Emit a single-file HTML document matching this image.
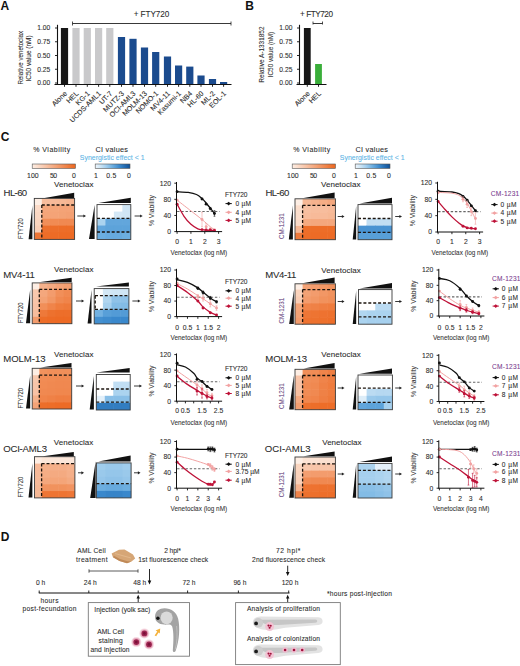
<!DOCTYPE html>
<html><head><meta charset="utf-8"><title>Figure</title>
<style>html,body{margin:0;padding:0;background:#fff;width:520px;height:666px;overflow:hidden}svg{display:block}text{font-family:"Liberation Sans", sans-serif}</style>
</head><body>
<svg width="520" height="666" viewBox="0 0 520 666" font-family='"Liberation Sans", sans-serif'><defs><linearGradient id="gO" x1="0" x2="1" y1="0" y2="0"><stop offset="0" stop-color="#fdeee4"/><stop offset="1" stop-color="#ec661e"/></linearGradient><linearGradient id="gB" x1="0" x2="1" y1="0" y2="0"><stop offset="0.00" stop-color="#eef6fc"/><stop offset="0.15" stop-color="#cee5f5"/><stop offset="0.30" stop-color="#a6d0ee"/><stop offset="0.50" stop-color="#6caee0"/><stop offset="0.70" stop-color="#3a88cc"/><stop offset="1.00" stop-color="#105096"/></linearGradient></defs><rect width="520" height="666" fill="#fff"/><text x="0.50" y="10.40" font-size="12" font-weight="bold" fill="#111">A</text>
<text x="151.50" y="17.30" font-size="8.2" text-anchor="middle" fill="#2b2b2b" stroke="#2b2b2b" stroke-width="0.08" textLength="35.50" lengthAdjust="spacing">+ FTY720</text>
<line x1="72.50" y1="23.50" x2="231.00" y2="23.50" stroke="#222" stroke-width="0.9"/>
<line x1="72.50" y1="21.50" x2="72.50" y2="25.50" stroke="#222" stroke-width="0.8"/>
<line x1="231.00" y1="21.50" x2="231.00" y2="25.50" stroke="#222" stroke-width="0.8"/>
<line x1="57.50" y1="24.80" x2="57.50" y2="84.50" stroke="#111" stroke-width="1.1"/>
<line x1="55.00" y1="28.00" x2="57.50" y2="28.00" stroke="#111" stroke-width="0.9"/>
<text x="50.20" y="30.30" font-size="6.7" text-anchor="end" fill="#2b2b2b" stroke="#2b2b2b" stroke-width="0.08">1.00</text>
<line x1="55.00" y1="41.75" x2="57.50" y2="41.75" stroke="#111" stroke-width="0.9"/>
<text x="50.20" y="44.05" font-size="6.7" text-anchor="end" fill="#2b2b2b" stroke="#2b2b2b" stroke-width="0.08">0.75</text>
<line x1="55.00" y1="55.50" x2="57.50" y2="55.50" stroke="#111" stroke-width="0.9"/>
<text x="50.20" y="57.80" font-size="6.7" text-anchor="end" fill="#2b2b2b" stroke="#2b2b2b" stroke-width="0.08">0.50</text>
<line x1="55.00" y1="69.25" x2="57.50" y2="69.25" stroke="#111" stroke-width="0.9"/>
<text x="50.20" y="71.55" font-size="6.7" text-anchor="end" fill="#2b2b2b" stroke="#2b2b2b" stroke-width="0.08">0.25</text>
<line x1="55.00" y1="83.00" x2="57.50" y2="83.00" stroke="#111" stroke-width="0.9"/>
<text x="50.20" y="85.30" font-size="6.7" text-anchor="end" fill="#2b2b2b" stroke="#2b2b2b" stroke-width="0.08">0.00</text>
<line x1="54.50" y1="84.50" x2="231.50" y2="84.50" stroke="#111" stroke-width="1.0"/>
<text x="0" y="0" transform="translate(22.50,57.75) rotate(-90)" font-size="7.9" text-anchor="middle" fill="#2b2b2b" stroke="#2b2b2b" stroke-width="0.08" textLength="53.70" lengthAdjust="spacingAndGlyphs">Relative venetoclax</text>
<text x="0" y="0" transform="translate(31.20,58.45) rotate(-90)" font-size="7.9" text-anchor="middle" fill="#2b2b2b" stroke="#2b2b2b" stroke-width="0.08" textLength="46.30" lengthAdjust="spacingAndGlyphs">IC50 value (nM)</text>
<rect x="60.90" y="28.00" width="7.20" height="56.00" fill="#161616"/>
<line x1="64.50" y1="84.00" x2="64.50" y2="86.80" stroke="#111" stroke-width="0.9"/>
<text x="0" y="0" transform="translate(67.50,94.00) rotate(-45)" font-size="7.1" text-anchor="end" fill="#2b2b2b" stroke="#2b2b2b" stroke-width="0.08">Alone</text>
<rect x="72.40" y="28.00" width="7.20" height="56.00" fill="#c9c9cb"/>
<line x1="76.00" y1="84.00" x2="76.00" y2="86.80" stroke="#111" stroke-width="0.9"/>
<text x="0" y="0" transform="translate(79.00,94.00) rotate(-45)" font-size="7.1" text-anchor="end" fill="#2b2b2b" stroke="#2b2b2b" stroke-width="0.08">HEL</text>
<rect x="83.70" y="28.00" width="7.20" height="56.00" fill="#c9c9cb"/>
<line x1="87.30" y1="84.00" x2="87.30" y2="86.80" stroke="#111" stroke-width="0.9"/>
<text x="0" y="0" transform="translate(90.30,94.00) rotate(-45)" font-size="7.1" text-anchor="end" fill="#2b2b2b" stroke="#2b2b2b" stroke-width="0.08">KG-1</text>
<rect x="95.00" y="28.00" width="7.20" height="56.00" fill="#c9c9cb"/>
<line x1="98.60" y1="84.00" x2="98.60" y2="86.80" stroke="#111" stroke-width="0.9"/>
<text x="0" y="0" transform="translate(101.60,94.00) rotate(-45)" font-size="7.1" text-anchor="end" fill="#2b2b2b" stroke="#2b2b2b" stroke-width="0.08">UCDS-AML1</text>
<rect x="106.20" y="28.00" width="7.20" height="56.00" fill="#c9c9cb"/>
<line x1="109.80" y1="84.00" x2="109.80" y2="86.80" stroke="#111" stroke-width="0.9"/>
<text x="0" y="0" transform="translate(112.80,94.00) rotate(-45)" font-size="7.1" text-anchor="end" fill="#2b2b2b" stroke="#2b2b2b" stroke-width="0.08">UT-7</text>
<rect x="117.90" y="37.00" width="7.20" height="47.00" fill="#1b4b8e"/>
<line x1="121.50" y1="84.00" x2="121.50" y2="86.80" stroke="#111" stroke-width="0.9"/>
<text x="0" y="0" transform="translate(124.50,94.00) rotate(-45)" font-size="7.1" text-anchor="end" fill="#2b2b2b" stroke="#2b2b2b" stroke-width="0.08">MUTZ-3</text>
<rect x="129.40" y="38.80" width="7.20" height="45.20" fill="#1b4b8e"/>
<line x1="133.00" y1="84.00" x2="133.00" y2="86.80" stroke="#111" stroke-width="0.9"/>
<text x="0" y="0" transform="translate(136.00,94.00) rotate(-45)" font-size="7.1" text-anchor="end" fill="#2b2b2b" stroke="#2b2b2b" stroke-width="0.08">OCI-AML3</text>
<rect x="140.90" y="47.50" width="7.20" height="36.50" fill="#1b4b8e"/>
<line x1="144.50" y1="84.00" x2="144.50" y2="86.80" stroke="#111" stroke-width="0.9"/>
<text x="0" y="0" transform="translate(147.50,94.00) rotate(-45)" font-size="7.1" text-anchor="end" fill="#2b2b2b" stroke="#2b2b2b" stroke-width="0.08">MOLM-13</text>
<rect x="152.10" y="52.00" width="7.20" height="32.00" fill="#1b4b8e"/>
<line x1="155.70" y1="84.00" x2="155.70" y2="86.80" stroke="#111" stroke-width="0.9"/>
<text x="0" y="0" transform="translate(158.70,94.00) rotate(-45)" font-size="7.1" text-anchor="end" fill="#2b2b2b" stroke="#2b2b2b" stroke-width="0.08">NOMO-1</text>
<rect x="163.90" y="56.50" width="7.20" height="27.50" fill="#1b4b8e"/>
<line x1="167.50" y1="84.00" x2="167.50" y2="86.80" stroke="#111" stroke-width="0.9"/>
<text x="0" y="0" transform="translate(170.50,94.00) rotate(-45)" font-size="7.1" text-anchor="end" fill="#2b2b2b" stroke="#2b2b2b" stroke-width="0.08">MV4-11</text>
<rect x="175.00" y="65.50" width="7.20" height="18.50" fill="#1b4b8e"/>
<line x1="178.60" y1="84.00" x2="178.60" y2="86.80" stroke="#111" stroke-width="0.9"/>
<text x="0" y="0" transform="translate(181.60,94.00) rotate(-45)" font-size="7.1" text-anchor="end" fill="#2b2b2b" stroke="#2b2b2b" stroke-width="0.08">Kasumi-1</text>
<rect x="186.20" y="66.60" width="7.20" height="17.40" fill="#1b4b8e"/>
<line x1="189.80" y1="84.00" x2="189.80" y2="86.80" stroke="#111" stroke-width="0.9"/>
<text x="0" y="0" transform="translate(192.80,94.00) rotate(-45)" font-size="7.1" text-anchor="end" fill="#2b2b2b" stroke="#2b2b2b" stroke-width="0.08">NB4</text>
<rect x="197.40" y="75.50" width="7.20" height="8.50" fill="#1b4b8e"/>
<line x1="201.00" y1="84.00" x2="201.00" y2="86.80" stroke="#111" stroke-width="0.9"/>
<text x="0" y="0" transform="translate(204.00,94.00) rotate(-45)" font-size="7.1" text-anchor="end" fill="#2b2b2b" stroke="#2b2b2b" stroke-width="0.08">HL-60</text>
<rect x="208.90" y="79.00" width="7.20" height="5.00" fill="#1b4b8e"/>
<line x1="212.50" y1="84.00" x2="212.50" y2="86.80" stroke="#111" stroke-width="0.9"/>
<text x="0" y="0" transform="translate(215.50,94.00) rotate(-45)" font-size="7.1" text-anchor="end" fill="#2b2b2b" stroke="#2b2b2b" stroke-width="0.08">ML-2</text>
<rect x="220.00" y="82.00" width="7.20" height="2.00" fill="#1b4b8e"/>
<line x1="223.60" y1="84.00" x2="223.60" y2="86.80" stroke="#111" stroke-width="0.9"/>
<text x="0" y="0" transform="translate(226.60,94.00) rotate(-45)" font-size="7.1" text-anchor="end" fill="#2b2b2b" stroke="#2b2b2b" stroke-width="0.08">EOL-1</text>
<text x="245.30" y="10.20" font-size="12" font-weight="bold" fill="#111">B</text>
<text x="316.50" y="17.20" font-size="8.2" text-anchor="middle" fill="#2b2b2b" stroke="#2b2b2b" stroke-width="0.08" textLength="33.00" lengthAdjust="spacing">+ FTY720</text>
<line x1="313.00" y1="23.50" x2="322.50" y2="23.50" stroke="#222" stroke-width="0.9"/>
<line x1="313.00" y1="21.50" x2="313.00" y2="24.50" stroke="#222" stroke-width="0.8"/>
<line x1="322.50" y1="21.50" x2="322.50" y2="24.50" stroke="#222" stroke-width="0.8"/>
<line x1="299.50" y1="24.80" x2="299.50" y2="84.50" stroke="#111" stroke-width="1.1"/>
<line x1="297.00" y1="28.00" x2="299.50" y2="28.00" stroke="#111" stroke-width="0.9"/>
<text x="292.40" y="30.30" font-size="6.7" text-anchor="end" fill="#2b2b2b" stroke="#2b2b2b" stroke-width="0.08">1.00</text>
<line x1="297.00" y1="41.75" x2="299.50" y2="41.75" stroke="#111" stroke-width="0.9"/>
<text x="292.40" y="44.05" font-size="6.7" text-anchor="end" fill="#2b2b2b" stroke="#2b2b2b" stroke-width="0.08">0.75</text>
<line x1="297.00" y1="55.50" x2="299.50" y2="55.50" stroke="#111" stroke-width="0.9"/>
<text x="292.40" y="57.80" font-size="6.7" text-anchor="end" fill="#2b2b2b" stroke="#2b2b2b" stroke-width="0.08">0.50</text>
<line x1="297.00" y1="69.25" x2="299.50" y2="69.25" stroke="#111" stroke-width="0.9"/>
<text x="292.40" y="71.55" font-size="6.7" text-anchor="end" fill="#2b2b2b" stroke="#2b2b2b" stroke-width="0.08">0.25</text>
<line x1="297.00" y1="83.00" x2="299.50" y2="83.00" stroke="#111" stroke-width="0.9"/>
<text x="292.40" y="85.30" font-size="6.7" text-anchor="end" fill="#2b2b2b" stroke="#2b2b2b" stroke-width="0.08">0.00</text>
<line x1="296.50" y1="84.50" x2="326.50" y2="84.50" stroke="#111" stroke-width="1.0"/>
<text x="0" y="0" transform="translate(263.60,54.60) rotate(-90)" font-size="7.9" text-anchor="middle" fill="#2b2b2b" stroke="#2b2b2b" stroke-width="0.08" textLength="56.20" lengthAdjust="spacingAndGlyphs">Relative A-1331852</text>
<text x="0" y="0" transform="translate(273.20,54.60) rotate(-90)" font-size="7.9" text-anchor="middle" fill="#2b2b2b" stroke="#2b2b2b" stroke-width="0.08" textLength="45.40" lengthAdjust="spacingAndGlyphs">IC50 value (nM)</text>
<rect x="303.90" y="28.00" width="6.80" height="56.00" fill="#161616"/>
<line x1="307.30" y1="84.00" x2="307.30" y2="86.80" stroke="#111" stroke-width="0.9"/>
<text x="0" y="0" transform="translate(310.30,94.00) rotate(-45)" font-size="7.1" text-anchor="end" fill="#2b2b2b" stroke="#2b2b2b" stroke-width="0.08">Alone</text>
<rect x="315.10" y="64.00" width="6.80" height="20.00" fill="#3aae3a"/>
<line x1="318.50" y1="84.00" x2="318.50" y2="86.80" stroke="#111" stroke-width="0.9"/>
<text x="0" y="0" transform="translate(321.50,94.00) rotate(-45)" font-size="7.1" text-anchor="end" fill="#2b2b2b" stroke="#2b2b2b" stroke-width="0.08">HEL</text>
<text x="0.80" y="141.20" font-size="12" font-weight="bold" fill="#111">C</text>
<text x="33.20" y="151.70" font-size="7.0" fill="#2b2b2b" stroke="#2b2b2b" stroke-width="0.08" textLength="37.00" lengthAdjust="spacing">% Viability</text>
<text x="95.50" y="152.30" font-size="7.3" fill="#2b2b2b" stroke="#2b2b2b" stroke-width="0.08" textLength="32.50" lengthAdjust="spacing">CI values</text>
<text x="79.80" y="160.40" font-size="6.9" fill="#5cb4e6" stroke="#5cb4e6" stroke-width="0.08" textLength="64.80" lengthAdjust="spacing">Synergistic effect &lt; 1</text>
<rect x="32.20" y="164.00" width="43.20" height="4.40" fill="url(#gO)" stroke="#555" stroke-width="0.6"/>
<rect x="95.20" y="164.00" width="34.80" height="4.40" fill="url(#gB)" stroke="#555" stroke-width="0.6"/>
<text x="32.80" y="177.60" font-size="6.9" text-anchor="middle" fill="#2b2b2b" stroke="#2b2b2b" stroke-width="0.08" textLength="11.50" lengthAdjust="spacing">100</text>
<text x="53.60" y="177.60" font-size="6.9" text-anchor="middle" fill="#2b2b2b" stroke="#2b2b2b" stroke-width="0.08" textLength="7.20" lengthAdjust="spacing">50</text>
<text x="74.00" y="177.60" font-size="6.9" text-anchor="middle" fill="#2b2b2b" stroke="#2b2b2b" stroke-width="0.08">0</text>
<text x="96.00" y="177.60" font-size="6.9" text-anchor="middle" fill="#2b2b2b" stroke="#2b2b2b" stroke-width="0.08">1</text>
<text x="111.30" y="177.60" font-size="6.9" text-anchor="middle" fill="#2b2b2b" stroke="#2b2b2b" stroke-width="0.08" textLength="10.20" lengthAdjust="spacing">0.5</text>
<text x="129.00" y="177.60" font-size="6.9" text-anchor="middle" fill="#2b2b2b" stroke="#2b2b2b" stroke-width="0.08">0</text>
<text x="293.20" y="151.70" font-size="7.0" fill="#2b2b2b" stroke="#2b2b2b" stroke-width="0.08" textLength="37.00" lengthAdjust="spacing">% Viability</text>
<text x="355.50" y="152.30" font-size="7.3" fill="#2b2b2b" stroke="#2b2b2b" stroke-width="0.08" textLength="32.50" lengthAdjust="spacing">CI values</text>
<text x="339.80" y="160.40" font-size="6.9" fill="#5cb4e6" stroke="#5cb4e6" stroke-width="0.08" textLength="64.80" lengthAdjust="spacing">Synergistic effect &lt; 1</text>
<rect x="292.20" y="164.00" width="43.20" height="4.40" fill="url(#gO)" stroke="#555" stroke-width="0.6"/>
<rect x="355.20" y="164.00" width="34.80" height="4.40" fill="url(#gB)" stroke="#555" stroke-width="0.6"/>
<text x="292.80" y="177.60" font-size="6.9" text-anchor="middle" fill="#2b2b2b" stroke="#2b2b2b" stroke-width="0.08" textLength="11.50" lengthAdjust="spacing">100</text>
<text x="313.60" y="177.60" font-size="6.9" text-anchor="middle" fill="#2b2b2b" stroke="#2b2b2b" stroke-width="0.08" textLength="7.20" lengthAdjust="spacing">50</text>
<text x="334.00" y="177.60" font-size="6.9" text-anchor="middle" fill="#2b2b2b" stroke="#2b2b2b" stroke-width="0.08">0</text>
<text x="356.00" y="177.60" font-size="6.9" text-anchor="middle" fill="#2b2b2b" stroke="#2b2b2b" stroke-width="0.08">1</text>
<text x="371.30" y="177.60" font-size="6.9" text-anchor="middle" fill="#2b2b2b" stroke="#2b2b2b" stroke-width="0.08" textLength="10.20" lengthAdjust="spacing">0.5</text>
<text x="389.00" y="177.60" font-size="6.9" text-anchor="middle" fill="#2b2b2b" stroke="#2b2b2b" stroke-width="0.08">0</text>
<text x="3.60" y="195.70" font-size="9.6" fill="#2b2b2b" stroke="#2b2b2b" stroke-width="0.08" textLength="23.60" lengthAdjust="spacing">HL-60</text>
<text x="54.00" y="186.80" font-size="8.0" fill="#2b2b2b" stroke="#2b2b2b" stroke-width="0.08" textLength="39.40" lengthAdjust="spacing">Venetoclax</text>
<rect x="34.30" y="198.40" width="8.10" height="7.20" fill="#fdeee4"/>
<rect x="41.80" y="198.40" width="8.80" height="7.20" fill="#f7bd9d"/>
<rect x="50.00" y="198.40" width="8.80" height="7.20" fill="#f7ba99"/>
<rect x="58.20" y="198.40" width="8.80" height="7.20" fill="#f6b895"/>
<rect x="66.40" y="198.40" width="8.20" height="7.20" fill="#f6b591"/>
<rect x="34.30" y="205.00" width="8.10" height="7.48" fill="#fbdbc8"/>
<rect x="41.80" y="205.00" width="8.80" height="7.48" fill="#f4a77d"/>
<rect x="50.00" y="205.00" width="8.80" height="7.48" fill="#f4a579"/>
<rect x="58.20" y="205.00" width="8.80" height="7.48" fill="#f4a377"/>
<rect x="66.40" y="205.00" width="8.20" height="7.48" fill="#f4a377"/>
<rect x="34.30" y="211.88" width="8.10" height="7.48" fill="#fad8c4"/>
<rect x="41.80" y="211.88" width="8.80" height="7.48" fill="#f4a579"/>
<rect x="50.00" y="211.88" width="8.80" height="7.48" fill="#f4a377"/>
<rect x="58.20" y="211.88" width="8.80" height="7.48" fill="#f3a275"/>
<rect x="66.40" y="211.88" width="8.20" height="7.48" fill="#f3a073"/>
<rect x="34.30" y="218.76" width="8.10" height="7.48" fill="#fad6c0"/>
<rect x="41.80" y="218.76" width="8.80" height="7.48" fill="#f18f59"/>
<rect x="50.00" y="218.76" width="8.80" height="7.48" fill="#f18b53"/>
<rect x="58.20" y="218.76" width="8.80" height="7.48" fill="#f08951"/>
<rect x="66.40" y="218.76" width="8.20" height="7.48" fill="#f08951"/>
<rect x="34.30" y="225.64" width="8.10" height="7.48" fill="#f9d0b8"/>
<rect x="41.80" y="225.64" width="8.80" height="7.48" fill="#ed712e"/>
<rect x="50.00" y="225.64" width="8.80" height="7.48" fill="#ed6e2a"/>
<rect x="58.20" y="225.64" width="8.80" height="7.48" fill="#ed6d28"/>
<rect x="66.40" y="225.64" width="8.20" height="7.48" fill="#ed6d28"/>
<rect x="34.30" y="232.52" width="8.10" height="6.88" fill="#ee7636"/>
<rect x="41.80" y="232.52" width="8.80" height="6.88" fill="#ed6d28"/>
<rect x="50.00" y="232.52" width="8.80" height="6.88" fill="#ed6b26"/>
<rect x="58.20" y="232.52" width="8.80" height="6.88" fill="#ed6a24"/>
<rect x="66.40" y="232.52" width="8.20" height="6.88" fill="#ed6a24"/>
<rect x="34.30" y="198.40" width="40.30" height="41.00" fill="none" stroke="#3a3a3a" stroke-width="0.9"/>
<line x1="41.80" y1="205.00" x2="74.60" y2="205.00" stroke="#1c140e" stroke-width="1.3" stroke-dasharray="3.0,1.9"/>
<line x1="41.80" y1="205.00" x2="41.80" y2="239.40" stroke="#1c140e" stroke-width="1.3" stroke-dasharray="3.0,1.9"/>
<polygon points="44.70,198.00 74.20,198.00 74.20,192.70" fill="#111"/>
<polygon points="32.40,205.60 32.40,239.20 28.60,239.20" fill="#111"/>
<line x1="77.30" y1="216.00" x2="84.20" y2="216.00" stroke="#222" stroke-width="0.9"/>
<polygon points="86.00,216.00 83.40,214.40 83.40,217.60" fill="#222"/>
<rect x="97.00" y="204.60" width="9.05" height="7.58" fill="#ffffff"/>
<rect x="105.45" y="204.60" width="9.05" height="7.58" fill="#ffffff"/>
<rect x="113.90" y="204.60" width="9.05" height="7.58" fill="#ffffff"/>
<rect x="122.35" y="204.60" width="8.45" height="7.58" fill="#d0e6f5"/>
<rect x="97.00" y="211.58" width="9.05" height="7.58" fill="#ffffff"/>
<rect x="105.45" y="211.58" width="9.05" height="7.58" fill="#ffffff"/>
<rect x="113.90" y="211.58" width="9.05" height="7.58" fill="#d4e8f6"/>
<rect x="122.35" y="211.58" width="8.45" height="7.58" fill="#d0e6f5"/>
<rect x="97.00" y="218.56" width="9.05" height="7.58" fill="#abd3ef"/>
<rect x="105.45" y="218.56" width="9.05" height="7.58" fill="#62a6dc"/>
<rect x="113.90" y="218.56" width="9.05" height="7.58" fill="#62a6dc"/>
<rect x="122.35" y="218.56" width="8.45" height="7.58" fill="#62a6dc"/>
<rect x="97.00" y="225.54" width="9.05" height="7.58" fill="#62a6dc"/>
<rect x="105.45" y="225.54" width="9.05" height="7.58" fill="#5da3da"/>
<rect x="113.90" y="225.54" width="9.05" height="7.58" fill="#5da3da"/>
<rect x="122.35" y="225.54" width="8.45" height="7.58" fill="#5da3da"/>
<rect x="97.00" y="232.52" width="9.05" height="6.98" fill="#6caee0"/>
<rect x="105.45" y="232.52" width="9.05" height="6.98" fill="#67aade"/>
<rect x="113.90" y="232.52" width="9.05" height="6.98" fill="#67aade"/>
<rect x="122.35" y="232.52" width="8.45" height="6.98" fill="#6caee0"/>
<rect x="97.00" y="204.60" width="33.80" height="34.90" fill="none" stroke="#3a3a3a" stroke-width="0.9"/>
<line x1="97.00" y1="218.40" x2="130.80" y2="218.40" stroke="#1c140e" stroke-width="1.3" stroke-dasharray="3.0,1.9"/>
<line x1="97.00" y1="232.00" x2="130.80" y2="232.00" stroke="#1c140e" stroke-width="1.3" stroke-dasharray="3.0,1.9"/>
<polygon points="98.50,203.00 130.80,203.00 130.80,197.70" fill="#111"/>
<polygon points="94.60,205.00 94.60,239.00 89.00,239.00" fill="#111"/>
<line x1="134.60" y1="216.00" x2="140.90" y2="216.00" stroke="#222" stroke-width="0.9"/>
<polygon points="142.70,216.00 140.10,214.40 140.10,217.60" fill="#222"/>
<text x="0" y="0" transform="translate(23.20,239.00) rotate(-90)" font-size="8.0" fill="#333" stroke="#333" stroke-width="0.08" textLength="20.70" lengthAdjust="spacingAndGlyphs">FTY720</text>
<text x="3.20" y="278.20" font-size="9.6" fill="#2b2b2b" stroke="#2b2b2b" stroke-width="0.08" textLength="31.70" lengthAdjust="spacing">MV4-11</text>
<text x="54.00" y="272.00" font-size="8.0" fill="#2b2b2b" stroke="#2b2b2b" stroke-width="0.08" textLength="39.40" lengthAdjust="spacing">Venetoclax</text>
<rect x="32.20" y="282.90" width="7.70" height="7.10" fill="#fdeee4"/>
<rect x="39.30" y="282.90" width="8.75" height="7.10" fill="#f5b18b"/>
<rect x="47.45" y="282.90" width="8.75" height="7.10" fill="#f4aa81"/>
<rect x="55.60" y="282.90" width="8.75" height="7.10" fill="#f4a377"/>
<rect x="63.75" y="282.90" width="8.15" height="7.10" fill="#f39f71"/>
<rect x="32.20" y="289.40" width="7.70" height="7.46" fill="#f8c8ad"/>
<rect x="39.30" y="289.40" width="8.75" height="7.46" fill="#f4a77d"/>
<rect x="47.45" y="289.40" width="8.75" height="7.46" fill="#f39c6d"/>
<rect x="55.60" y="289.40" width="8.75" height="7.46" fill="#f18f59"/>
<rect x="63.75" y="289.40" width="8.15" height="7.46" fill="#f08951"/>
<rect x="32.20" y="296.26" width="7.70" height="7.46" fill="#f8c5a9"/>
<rect x="39.30" y="296.26" width="8.75" height="7.46" fill="#f3a275"/>
<rect x="47.45" y="296.26" width="8.75" height="7.46" fill="#f29765"/>
<rect x="55.60" y="296.26" width="8.75" height="7.46" fill="#f08951"/>
<rect x="63.75" y="296.26" width="8.15" height="7.46" fill="#f0844a"/>
<rect x="32.20" y="303.12" width="7.70" height="7.46" fill="#f8c2a5"/>
<rect x="39.30" y="303.12" width="8.75" height="7.46" fill="#f18f59"/>
<rect x="47.45" y="303.12" width="8.75" height="7.46" fill="#f0844a"/>
<rect x="55.60" y="303.12" width="8.75" height="7.46" fill="#ef7c3e"/>
<rect x="63.75" y="303.12" width="8.15" height="7.46" fill="#ee793a"/>
<rect x="32.20" y="309.98" width="7.70" height="7.46" fill="#f7bd9d"/>
<rect x="39.30" y="309.98" width="8.75" height="7.46" fill="#ee793a"/>
<rect x="47.45" y="309.98" width="8.75" height="7.46" fill="#ed712e"/>
<rect x="55.60" y="309.98" width="8.75" height="7.46" fill="#ed6e2a"/>
<rect x="63.75" y="309.98" width="8.15" height="7.46" fill="#ed6e2a"/>
<rect x="32.20" y="316.84" width="7.70" height="6.86" fill="#f39c6d"/>
<rect x="39.30" y="316.84" width="8.75" height="6.86" fill="#ed6d28"/>
<rect x="47.45" y="316.84" width="8.75" height="6.86" fill="#ed6b26"/>
<rect x="55.60" y="316.84" width="8.75" height="6.86" fill="#ed6a24"/>
<rect x="63.75" y="316.84" width="8.15" height="6.86" fill="#ed6a24"/>
<rect x="32.20" y="282.90" width="39.70" height="40.80" fill="none" stroke="#3a3a3a" stroke-width="0.9"/>
<line x1="39.30" y1="289.40" x2="71.90" y2="289.40" stroke="#1c140e" stroke-width="1.3" stroke-dasharray="3.0,1.9"/>
<line x1="39.30" y1="289.40" x2="39.30" y2="323.70" stroke="#1c140e" stroke-width="1.3" stroke-dasharray="3.0,1.9"/>
<polygon points="40.50,282.00 71.70,282.00 71.70,277.70" fill="#111"/>
<polygon points="30.20,289.60 30.20,323.20 26.00,323.20" fill="#111"/>
<line x1="76.00" y1="301.00" x2="82.40" y2="301.00" stroke="#222" stroke-width="0.9"/>
<polygon points="84.20,301.00 81.60,299.40 81.60,302.60" fill="#222"/>
<rect x="94.20" y="288.60" width="9.28" height="7.66" fill="#ffffff"/>
<rect x="102.88" y="288.60" width="9.28" height="7.66" fill="#d4e8f6"/>
<rect x="111.55" y="288.60" width="9.28" height="7.66" fill="#d0e6f5"/>
<rect x="120.23" y="288.60" width="8.68" height="7.66" fill="#d0e6f5"/>
<rect x="94.20" y="295.66" width="9.28" height="7.66" fill="#ffffff"/>
<rect x="102.88" y="295.66" width="9.28" height="7.66" fill="#b1d6f0"/>
<rect x="111.55" y="295.66" width="9.28" height="7.66" fill="#8fc2e8"/>
<rect x="120.23" y="295.66" width="8.68" height="7.66" fill="#8fc2e8"/>
<rect x="94.20" y="302.72" width="9.28" height="7.66" fill="#ffffff"/>
<rect x="102.88" y="302.72" width="9.28" height="7.66" fill="#a6d0ee"/>
<rect x="111.55" y="302.72" width="9.28" height="7.66" fill="#83bce6"/>
<rect x="120.23" y="302.72" width="8.68" height="7.66" fill="#83bce6"/>
<rect x="94.20" y="309.78" width="9.28" height="7.66" fill="#72b1e1"/>
<rect x="102.88" y="309.78" width="9.28" height="7.66" fill="#589fd8"/>
<rect x="111.55" y="309.78" width="9.28" height="7.66" fill="#539bd6"/>
<rect x="120.23" y="309.78" width="8.68" height="7.66" fill="#539bd6"/>
<rect x="94.20" y="316.84" width="9.28" height="7.06" fill="#4490d0"/>
<rect x="102.88" y="316.84" width="9.28" height="7.06" fill="#3f8cce"/>
<rect x="111.55" y="316.84" width="9.28" height="7.06" fill="#3a88cc"/>
<rect x="120.23" y="316.84" width="8.68" height="7.06" fill="#3a88cc"/>
<rect x="94.20" y="288.60" width="34.70" height="35.30" fill="none" stroke="#3a3a3a" stroke-width="0.9"/>
<line x1="95.00" y1="295.70" x2="128.90" y2="295.70" stroke="#1c140e" stroke-width="1.3" stroke-dasharray="3.0,1.9"/>
<line x1="95.00" y1="309.40" x2="128.90" y2="309.40" stroke="#1c140e" stroke-width="1.3" stroke-dasharray="3.0,1.9"/>
<line x1="95.20" y1="295.70" x2="95.20" y2="309.40" stroke="#1c140e" stroke-width="1.3" stroke-dasharray="3.0,1.9"/>
<polygon points="96.00,286.50 128.90,286.50 128.90,282.40" fill="#111"/>
<polygon points="91.50,290.00 91.50,323.40 87.60,323.40" fill="#111"/>
<line x1="132.40" y1="301.00" x2="138.70" y2="301.00" stroke="#222" stroke-width="0.9"/>
<polygon points="140.50,301.00 137.90,299.40 137.90,302.60" fill="#222"/>
<text x="0" y="0" transform="translate(23.20,323.30) rotate(-90)" font-size="8.0" fill="#333" stroke="#333" stroke-width="0.08" textLength="20.70" lengthAdjust="spacingAndGlyphs">FTY720</text>
<text x="3.20" y="362.20" font-size="9.6" fill="#2b2b2b" stroke="#2b2b2b" stroke-width="0.08" textLength="42.30" lengthAdjust="spacing">MOLM-13</text>
<text x="54.00" y="356.70" font-size="8.0" fill="#2b2b2b" stroke="#2b2b2b" stroke-width="0.08" textLength="39.40" lengthAdjust="spacing">Venetoclax</text>
<rect x="32.20" y="368.30" width="7.70" height="7.50" fill="#fdeee4"/>
<rect x="39.30" y="368.30" width="8.70" height="7.50" fill="#f1925d"/>
<rect x="47.40" y="368.30" width="8.70" height="7.50" fill="#f18f59"/>
<rect x="55.50" y="368.30" width="8.70" height="7.50" fill="#f18f59"/>
<rect x="63.60" y="368.30" width="8.10" height="7.50" fill="#f18f59"/>
<rect x="32.20" y="375.20" width="7.70" height="7.36" fill="#f8c8ad"/>
<rect x="39.30" y="375.20" width="8.70" height="7.36" fill="#f18c55"/>
<rect x="47.40" y="375.20" width="8.70" height="7.36" fill="#f18b53"/>
<rect x="55.50" y="375.20" width="8.70" height="7.36" fill="#f08951"/>
<rect x="63.60" y="375.20" width="8.10" height="7.36" fill="#f08951"/>
<rect x="32.20" y="381.96" width="7.70" height="7.36" fill="#f8c5a9"/>
<rect x="39.30" y="381.96" width="8.70" height="7.36" fill="#f18b53"/>
<rect x="47.40" y="381.96" width="8.70" height="7.36" fill="#f08951"/>
<rect x="55.50" y="381.96" width="8.70" height="7.36" fill="#f08850"/>
<rect x="63.60" y="381.96" width="8.10" height="7.36" fill="#f08850"/>
<rect x="32.20" y="388.72" width="7.70" height="7.36" fill="#f8c2a5"/>
<rect x="39.30" y="388.72" width="8.70" height="7.36" fill="#f08951"/>
<rect x="47.40" y="388.72" width="8.70" height="7.36" fill="#f08850"/>
<rect x="55.50" y="388.72" width="8.70" height="7.36" fill="#f0874e"/>
<rect x="63.60" y="388.72" width="8.10" height="7.36" fill="#f0874e"/>
<rect x="32.20" y="395.48" width="7.70" height="7.36" fill="#f5b18b"/>
<rect x="39.30" y="395.48" width="8.70" height="7.36" fill="#f0844a"/>
<rect x="47.40" y="395.48" width="8.70" height="7.36" fill="#ef8146"/>
<rect x="55.50" y="395.48" width="8.70" height="7.36" fill="#ef7e42"/>
<rect x="63.60" y="395.48" width="8.10" height="7.36" fill="#ef7e42"/>
<rect x="32.20" y="402.24" width="7.70" height="6.76" fill="#f4a377"/>
<rect x="39.30" y="402.24" width="8.70" height="6.76" fill="#ed6e2a"/>
<rect x="47.40" y="402.24" width="8.70" height="6.76" fill="#ed6d28"/>
<rect x="55.50" y="402.24" width="8.70" height="6.76" fill="#ed6b26"/>
<rect x="63.60" y="402.24" width="8.10" height="6.76" fill="#ed6b26"/>
<rect x="32.20" y="368.30" width="39.50" height="40.70" fill="none" stroke="#3a3a3a" stroke-width="0.9"/>
<line x1="39.30" y1="375.20" x2="71.70" y2="375.20" stroke="#1c140e" stroke-width="1.3" stroke-dasharray="3.0,1.9"/>
<line x1="39.30" y1="375.20" x2="39.30" y2="409.00" stroke="#1c140e" stroke-width="1.3" stroke-dasharray="3.0,1.9"/>
<polygon points="40.50,367.60 71.50,367.60 71.50,363.00" fill="#111"/>
<polygon points="30.20,375.50 30.20,408.60 26.00,408.60" fill="#111"/>
<line x1="76.00" y1="386.00" x2="82.40" y2="386.00" stroke="#222" stroke-width="0.9"/>
<polygon points="84.20,386.00 81.60,384.40 81.60,387.60" fill="#222"/>
<rect x="96.30" y="374.50" width="9.07" height="7.70" fill="#ffffff"/>
<rect x="104.77" y="374.50" width="9.07" height="7.70" fill="#ffffff"/>
<rect x="113.25" y="374.50" width="9.07" height="7.70" fill="#ffffff"/>
<rect x="121.72" y="374.50" width="8.47" height="7.70" fill="#ffffff"/>
<rect x="96.30" y="381.60" width="9.07" height="7.70" fill="#ffffff"/>
<rect x="104.77" y="381.60" width="9.07" height="7.70" fill="#ffffff"/>
<rect x="113.25" y="381.60" width="9.07" height="7.70" fill="#c1def3"/>
<rect x="121.72" y="381.60" width="8.47" height="7.70" fill="#c1def3"/>
<rect x="96.30" y="388.70" width="9.07" height="7.70" fill="#ffffff"/>
<rect x="104.77" y="388.70" width="9.07" height="7.70" fill="#ffffff"/>
<rect x="113.25" y="388.70" width="9.07" height="7.70" fill="#abd3ef"/>
<rect x="121.72" y="388.70" width="8.47" height="7.70" fill="#abd3ef"/>
<rect x="96.30" y="395.80" width="9.07" height="7.70" fill="#e3f0fa"/>
<rect x="104.77" y="395.80" width="9.07" height="7.70" fill="#89bfe7"/>
<rect x="113.25" y="395.80" width="9.07" height="7.70" fill="#89bfe7"/>
<rect x="121.72" y="395.80" width="8.47" height="7.70" fill="#89bfe7"/>
<rect x="96.30" y="402.90" width="9.07" height="7.10" fill="#327dc1"/>
<rect x="104.77" y="402.90" width="9.07" height="7.10" fill="#327dc1"/>
<rect x="113.25" y="402.90" width="9.07" height="7.10" fill="#327dc1"/>
<rect x="121.72" y="402.90" width="8.47" height="7.10" fill="#327dc1"/>
<rect x="96.30" y="374.50" width="33.90" height="35.50" fill="none" stroke="#3a3a3a" stroke-width="0.9"/>
<line x1="96.30" y1="389.00" x2="130.20" y2="389.00" stroke="#1c140e" stroke-width="1.3" stroke-dasharray="3.0,1.9"/>
<line x1="96.30" y1="402.20" x2="130.20" y2="402.20" stroke="#1c140e" stroke-width="1.3" stroke-dasharray="3.0,1.9"/>
<polygon points="96.50,372.60 129.70,372.60 129.70,368.00" fill="#111"/>
<polygon points="93.90,375.70 93.90,409.50 89.70,409.50" fill="#111"/>
<line x1="134.00" y1="386.00" x2="140.20" y2="386.00" stroke="#222" stroke-width="0.9"/>
<polygon points="142.00,386.00 139.40,384.40 139.40,387.60" fill="#222"/>
<text x="0" y="0" transform="translate(23.20,408.60) rotate(-90)" font-size="8.0" fill="#333" stroke="#333" stroke-width="0.08" textLength="20.70" lengthAdjust="spacingAndGlyphs">FTY720</text>
<text x="3.20" y="452.20" font-size="9.6" fill="#2b2b2b" stroke="#2b2b2b" stroke-width="0.08" textLength="43.80" lengthAdjust="spacing">OCI-AML3</text>
<text x="53.80" y="444.60" font-size="8.0" fill="#2b2b2b" stroke="#2b2b2b" stroke-width="0.08" textLength="39.40" lengthAdjust="spacing">Venetoclax</text>
<rect x="34.50" y="456.70" width="7.70" height="7.50" fill="#fdeee4"/>
<rect x="41.60" y="456.70" width="8.93" height="7.50" fill="#fce7da"/>
<rect x="49.93" y="456.70" width="8.92" height="7.50" fill="#fce7da"/>
<rect x="58.25" y="456.70" width="8.93" height="7.50" fill="#fce7da"/>
<rect x="66.58" y="456.70" width="8.33" height="7.50" fill="#fce7da"/>
<rect x="34.50" y="463.60" width="7.70" height="7.46" fill="#f7ba99"/>
<rect x="41.60" y="463.60" width="8.93" height="7.46" fill="#f5b18b"/>
<rect x="49.93" y="463.60" width="8.92" height="7.46" fill="#f5af89"/>
<rect x="58.25" y="463.60" width="8.93" height="7.46" fill="#f5af89"/>
<rect x="66.58" y="463.60" width="8.33" height="7.46" fill="#f6b28d"/>
<rect x="34.50" y="470.46" width="7.70" height="7.46" fill="#f7ba99"/>
<rect x="41.60" y="470.46" width="8.93" height="7.46" fill="#f5ad85"/>
<rect x="49.93" y="470.46" width="8.92" height="7.46" fill="#f4aa81"/>
<rect x="58.25" y="470.46" width="8.93" height="7.46" fill="#f4aa81"/>
<rect x="66.58" y="470.46" width="8.33" height="7.46" fill="#f5af89"/>
<rect x="34.50" y="477.32" width="7.70" height="7.46" fill="#f7ba99"/>
<rect x="41.60" y="477.32" width="8.93" height="7.46" fill="#f4a77d"/>
<rect x="49.93" y="477.32" width="8.92" height="7.46" fill="#f4a579"/>
<rect x="58.25" y="477.32" width="8.93" height="7.46" fill="#f4a579"/>
<rect x="66.58" y="477.32" width="8.33" height="7.46" fill="#f4aa81"/>
<rect x="34.50" y="484.18" width="7.70" height="7.46" fill="#f6b895"/>
<rect x="41.60" y="484.18" width="8.93" height="7.46" fill="#f29461"/>
<rect x="49.93" y="484.18" width="8.92" height="7.46" fill="#f1925d"/>
<rect x="58.25" y="484.18" width="8.93" height="7.46" fill="#f1925d"/>
<rect x="66.58" y="484.18" width="8.33" height="7.46" fill="#f29461"/>
<rect x="34.50" y="491.04" width="7.70" height="6.86" fill="#f6b895"/>
<rect x="41.60" y="491.04" width="8.93" height="6.86" fill="#ee7636"/>
<rect x="49.93" y="491.04" width="8.92" height="6.86" fill="#ee7432"/>
<rect x="58.25" y="491.04" width="8.93" height="6.86" fill="#ee7432"/>
<rect x="66.58" y="491.04" width="8.33" height="6.86" fill="#ee7636"/>
<rect x="34.50" y="456.70" width="40.40" height="41.20" fill="none" stroke="#3a3a3a" stroke-width="0.9"/>
<line x1="41.60" y1="463.60" x2="74.90" y2="463.60" stroke="#1c140e" stroke-width="1.3" stroke-dasharray="3.0,1.9"/>
<line x1="41.60" y1="463.60" x2="41.60" y2="497.90" stroke="#1c140e" stroke-width="1.3" stroke-dasharray="3.0,1.9"/>
<polygon points="43.00,456.20 73.80,456.20 73.80,451.90" fill="#111"/>
<polygon points="32.40,463.00 32.40,497.60 28.50,497.60" fill="#111"/>
<line x1="78.00" y1="472.80" x2="82.20" y2="472.80" stroke="#222" stroke-width="0.9"/>
<polygon points="84.00,472.80 81.40,471.20 81.40,474.40" fill="#222"/>
<rect x="96.40" y="462.90" width="9.27" height="7.60" fill="#a0cded"/>
<rect x="105.08" y="462.90" width="9.27" height="7.60" fill="#9ac9eb"/>
<rect x="113.75" y="462.90" width="9.27" height="7.60" fill="#9ac9eb"/>
<rect x="122.42" y="462.90" width="8.67" height="7.60" fill="#a0cded"/>
<rect x="96.40" y="469.90" width="9.27" height="7.60" fill="#9ac9eb"/>
<rect x="105.08" y="469.90" width="9.27" height="7.60" fill="#95c6ea"/>
<rect x="113.75" y="469.90" width="9.27" height="7.60" fill="#95c6ea"/>
<rect x="122.42" y="469.90" width="8.67" height="7.60" fill="#9ac9eb"/>
<rect x="96.40" y="476.90" width="9.27" height="7.60" fill="#95c6ea"/>
<rect x="105.08" y="476.90" width="9.27" height="7.60" fill="#8fc2e8"/>
<rect x="113.75" y="476.90" width="9.27" height="7.60" fill="#8fc2e8"/>
<rect x="122.42" y="476.90" width="8.67" height="7.60" fill="#95c6ea"/>
<rect x="96.40" y="483.90" width="9.27" height="7.60" fill="#6caee0"/>
<rect x="105.08" y="483.90" width="9.27" height="7.60" fill="#67aade"/>
<rect x="113.75" y="483.90" width="9.27" height="7.60" fill="#67aade"/>
<rect x="122.42" y="483.90" width="8.67" height="7.60" fill="#6caee0"/>
<rect x="96.40" y="490.90" width="9.27" height="7.00" fill="#3a88cc"/>
<rect x="105.08" y="490.90" width="9.27" height="7.00" fill="#3784c8"/>
<rect x="113.75" y="490.90" width="9.27" height="7.00" fill="#3784c8"/>
<rect x="122.42" y="490.90" width="8.67" height="7.00" fill="#3a88cc"/>
<rect x="96.40" y="462.90" width="34.70" height="35.00" fill="none" stroke="#3a3a3a" stroke-width="0.9"/>
<line x1="96.40" y1="483.60" x2="131.10" y2="483.60" stroke="#1c140e" stroke-width="1.3" stroke-dasharray="3.0,1.9"/>
<polygon points="98.30,461.50 130.60,461.50 130.60,455.60" fill="#111"/>
<polygon points="95.60,461.50 95.60,497.90 90.20,497.90" fill="#111"/>
<line x1="134.00" y1="472.80" x2="138.70" y2="472.80" stroke="#222" stroke-width="0.9"/>
<polygon points="140.50,472.80 137.90,471.20 137.90,474.40" fill="#222"/>
<text x="0" y="0" transform="translate(23.20,497.50) rotate(-90)" font-size="8.0" fill="#333" stroke="#333" stroke-width="0.08" textLength="20.70" lengthAdjust="spacingAndGlyphs">FTY720</text>
<text x="265.40" y="195.50" font-size="9.6" fill="#2b2b2b" stroke="#2b2b2b" stroke-width="0.08" textLength="24.00" lengthAdjust="spacing">HL-60</text>
<text x="321.00" y="186.80" font-size="8.0" fill="#2b2b2b" stroke="#2b2b2b" stroke-width="0.08" textLength="39.40" lengthAdjust="spacing">Venetoclax</text>
<rect x="295.00" y="198.80" width="8.20" height="7.10" fill="#fdeee4"/>
<rect x="302.60" y="198.80" width="8.80" height="7.10" fill="#f6b895"/>
<rect x="310.80" y="198.80" width="8.80" height="7.10" fill="#f6b28d"/>
<rect x="319.00" y="198.80" width="8.80" height="7.10" fill="#f5ad85"/>
<rect x="327.20" y="198.80" width="8.20" height="7.10" fill="#f4a77d"/>
<rect x="295.00" y="205.30" width="8.20" height="7.48" fill="#fbdecc"/>
<rect x="302.60" y="205.30" width="8.80" height="7.48" fill="#f7c0a1"/>
<rect x="310.80" y="205.30" width="8.80" height="7.48" fill="#f7bd9d"/>
<rect x="319.00" y="205.30" width="8.80" height="7.48" fill="#f7bd9d"/>
<rect x="327.20" y="205.30" width="8.20" height="7.48" fill="#f7ba99"/>
<rect x="295.00" y="212.18" width="8.20" height="7.48" fill="#fbdecc"/>
<rect x="302.60" y="212.18" width="8.80" height="7.48" fill="#f7bd9d"/>
<rect x="310.80" y="212.18" width="8.80" height="7.48" fill="#f7ba99"/>
<rect x="319.00" y="212.18" width="8.80" height="7.48" fill="#f7ba99"/>
<rect x="327.20" y="212.18" width="8.20" height="7.48" fill="#f6b895"/>
<rect x="295.00" y="219.06" width="8.20" height="7.48" fill="#fbdbc8"/>
<rect x="302.60" y="219.06" width="8.80" height="7.48" fill="#f4aa81"/>
<rect x="310.80" y="219.06" width="8.80" height="7.48" fill="#f4a77d"/>
<rect x="319.00" y="219.06" width="8.80" height="7.48" fill="#f4a77d"/>
<rect x="327.20" y="219.06" width="8.20" height="7.48" fill="#f4a77d"/>
<rect x="295.00" y="225.94" width="8.20" height="7.48" fill="#f6b895"/>
<rect x="302.60" y="225.94" width="8.80" height="7.48" fill="#ed6e2a"/>
<rect x="310.80" y="225.94" width="8.80" height="7.48" fill="#ed6d28"/>
<rect x="319.00" y="225.94" width="8.80" height="7.48" fill="#ed6d28"/>
<rect x="327.20" y="225.94" width="8.20" height="7.48" fill="#ed6d28"/>
<rect x="295.00" y="232.82" width="8.20" height="6.88" fill="#ef7a3c"/>
<rect x="302.60" y="232.82" width="8.80" height="6.88" fill="#ed6d28"/>
<rect x="310.80" y="232.82" width="8.80" height="6.88" fill="#ed6b26"/>
<rect x="319.00" y="232.82" width="8.80" height="6.88" fill="#ed6b26"/>
<rect x="327.20" y="232.82" width="8.20" height="6.88" fill="#ed6b26"/>
<rect x="295.00" y="198.80" width="40.40" height="40.90" fill="none" stroke="#3a3a3a" stroke-width="0.9"/>
<line x1="302.60" y1="205.30" x2="335.40" y2="205.30" stroke="#1c140e" stroke-width="1.3" stroke-dasharray="3.0,1.9"/>
<line x1="302.60" y1="205.30" x2="302.60" y2="239.70" stroke="#1c140e" stroke-width="1.3" stroke-dasharray="3.0,1.9"/>
<polygon points="303.70,198.00 334.60,198.00 334.60,192.50" fill="#111"/>
<polygon points="292.90,205.50 292.90,239.40 288.80,239.40" fill="#111"/>
<line x1="337.70" y1="216.50" x2="342.70" y2="216.50" stroke="#222" stroke-width="0.9"/>
<polygon points="344.50,216.50 341.90,214.90 341.90,218.10" fill="#222"/>
<rect x="358.00" y="204.60" width="9.10" height="7.62" fill="#ffffff"/>
<rect x="366.50" y="204.60" width="9.10" height="7.62" fill="#ffffff"/>
<rect x="375.00" y="204.60" width="9.10" height="7.62" fill="#ffffff"/>
<rect x="383.50" y="204.60" width="8.50" height="7.62" fill="#ffffff"/>
<rect x="358.00" y="211.62" width="9.10" height="7.62" fill="#ffffff"/>
<rect x="366.50" y="211.62" width="9.10" height="7.62" fill="#ffffff"/>
<rect x="375.00" y="211.62" width="9.10" height="7.62" fill="#ffffff"/>
<rect x="383.50" y="211.62" width="8.50" height="7.62" fill="#ffffff"/>
<rect x="358.00" y="218.64" width="9.10" height="7.62" fill="#ffffff"/>
<rect x="366.50" y="218.64" width="9.10" height="7.62" fill="#c1def3"/>
<rect x="375.00" y="218.64" width="9.10" height="7.62" fill="#c1def3"/>
<rect x="383.50" y="218.64" width="8.50" height="7.62" fill="#c1def3"/>
<rect x="358.00" y="225.66" width="9.10" height="7.62" fill="#4993d2"/>
<rect x="366.50" y="225.66" width="9.10" height="7.62" fill="#4993d2"/>
<rect x="375.00" y="225.66" width="9.10" height="7.62" fill="#4993d2"/>
<rect x="383.50" y="225.66" width="8.50" height="7.62" fill="#4993d2"/>
<rect x="358.00" y="232.68" width="9.10" height="7.02" fill="#589fd8"/>
<rect x="366.50" y="232.68" width="9.10" height="7.02" fill="#589fd8"/>
<rect x="375.00" y="232.68" width="9.10" height="7.02" fill="#589fd8"/>
<rect x="383.50" y="232.68" width="8.50" height="7.02" fill="#589fd8"/>
<rect x="358.00" y="204.60" width="34.00" height="35.10" fill="none" stroke="#3a3a3a" stroke-width="0.9"/>
<line x1="358.00" y1="218.50" x2="392.00" y2="218.50" stroke="#1c140e" stroke-width="1.3" stroke-dasharray="3.0,1.9"/>
<line x1="358.00" y1="232.30" x2="392.00" y2="232.30" stroke="#1c140e" stroke-width="1.3" stroke-dasharray="3.0,1.9"/>
<polygon points="359.60,203.50 392.00,203.50 392.00,197.70" fill="#111"/>
<polygon points="356.20,205.80 356.20,239.40 352.70,239.40" fill="#111"/>
<line x1="395.20" y1="216.50" x2="400.20" y2="216.50" stroke="#222" stroke-width="0.9"/>
<polygon points="402.00,216.50 399.40,214.90 399.40,218.10" fill="#222"/>
<text x="0" y="0" transform="translate(284.30,239.00) rotate(-90)" font-size="7.6" fill="#6e4c84" stroke="#6e4c84" stroke-width="0.08" textLength="25.60" lengthAdjust="spacingAndGlyphs">CM-1231</text>
<text x="265.30" y="278.20" font-size="9.6" fill="#2b2b2b" stroke="#2b2b2b" stroke-width="0.08" textLength="31.00" lengthAdjust="spacing">MV4-11</text>
<text x="321.30" y="272.60" font-size="8.0" fill="#2b2b2b" stroke="#2b2b2b" stroke-width="0.08" textLength="39.40" lengthAdjust="spacing">Venetoclax</text>
<rect x="295.00" y="283.80" width="8.20" height="6.40" fill="#fdeee4"/>
<rect x="302.60" y="283.80" width="8.80" height="6.40" fill="#f3a275"/>
<rect x="310.80" y="283.80" width="8.80" height="6.40" fill="#f39c6d"/>
<rect x="319.00" y="283.80" width="8.80" height="6.40" fill="#f29765"/>
<rect x="327.20" y="283.80" width="8.20" height="6.40" fill="#f1925d"/>
<rect x="295.00" y="289.60" width="8.20" height="7.52" fill="#fad3bc"/>
<rect x="302.60" y="289.60" width="8.80" height="7.52" fill="#f3a275"/>
<rect x="310.80" y="289.60" width="8.80" height="7.52" fill="#f39c6d"/>
<rect x="319.00" y="289.60" width="8.80" height="7.52" fill="#f29765"/>
<rect x="327.20" y="289.60" width="8.20" height="7.52" fill="#f1925d"/>
<rect x="295.00" y="296.52" width="8.20" height="7.52" fill="#f9cdb4"/>
<rect x="302.60" y="296.52" width="8.80" height="7.52" fill="#f39c6d"/>
<rect x="310.80" y="296.52" width="8.80" height="7.52" fill="#f29765"/>
<rect x="319.00" y="296.52" width="8.80" height="7.52" fill="#f1925d"/>
<rect x="327.20" y="296.52" width="8.20" height="7.52" fill="#f18f59"/>
<rect x="295.00" y="303.44" width="8.20" height="7.52" fill="#f4a579"/>
<rect x="302.60" y="303.44" width="8.80" height="7.52" fill="#f0844a"/>
<rect x="310.80" y="303.44" width="8.80" height="7.52" fill="#ef8146"/>
<rect x="319.00" y="303.44" width="8.80" height="7.52" fill="#ef7e42"/>
<rect x="327.20" y="303.44" width="8.20" height="7.52" fill="#ef7c3e"/>
<rect x="295.00" y="310.36" width="8.20" height="7.52" fill="#f3a275"/>
<rect x="302.60" y="310.36" width="8.80" height="7.52" fill="#ee7636"/>
<rect x="310.80" y="310.36" width="8.80" height="7.52" fill="#ee7432"/>
<rect x="319.00" y="310.36" width="8.80" height="7.52" fill="#ee7230"/>
<rect x="327.20" y="310.36" width="8.20" height="7.52" fill="#ed712e"/>
<rect x="295.00" y="317.28" width="8.20" height="6.92" fill="#f39c6d"/>
<rect x="302.60" y="317.28" width="8.80" height="6.92" fill="#ee7230"/>
<rect x="310.80" y="317.28" width="8.80" height="6.92" fill="#ed712e"/>
<rect x="319.00" y="317.28" width="8.80" height="6.92" fill="#ed702c"/>
<rect x="327.20" y="317.28" width="8.20" height="6.92" fill="#ed6e2a"/>
<rect x="295.00" y="283.80" width="40.40" height="40.40" fill="none" stroke="#3a3a3a" stroke-width="0.9"/>
<line x1="302.60" y1="289.60" x2="335.40" y2="289.60" stroke="#1c140e" stroke-width="1.3" stroke-dasharray="3.0,1.9"/>
<line x1="302.60" y1="289.60" x2="302.60" y2="324.20" stroke="#1c140e" stroke-width="1.3" stroke-dasharray="3.0,1.9"/>
<polygon points="303.70,283.00 334.60,283.00 334.60,277.50" fill="#111"/>
<polygon points="293.80,290.00 293.80,323.90 289.20,323.90" fill="#111"/>
<line x1="337.70" y1="301.50" x2="342.70" y2="301.50" stroke="#222" stroke-width="0.9"/>
<polygon points="344.50,301.50 341.90,299.90 341.90,303.10" fill="#222"/>
<rect x="358.50" y="289.60" width="8.97" height="7.52" fill="#ffffff"/>
<rect x="366.88" y="289.60" width="8.97" height="7.52" fill="#ffffff"/>
<rect x="375.25" y="289.60" width="8.97" height="7.52" fill="#ffffff"/>
<rect x="383.62" y="289.60" width="8.38" height="7.52" fill="#ffffff"/>
<rect x="358.50" y="296.52" width="8.97" height="7.52" fill="#ffffff"/>
<rect x="366.88" y="296.52" width="8.97" height="7.52" fill="#ffffff"/>
<rect x="375.25" y="296.52" width="8.97" height="7.52" fill="#ffffff"/>
<rect x="383.62" y="296.52" width="8.38" height="7.52" fill="#ffffff"/>
<rect x="358.50" y="303.44" width="8.97" height="7.52" fill="#ffffff"/>
<rect x="366.88" y="303.44" width="8.97" height="7.52" fill="#ffffff"/>
<rect x="375.25" y="303.44" width="8.97" height="7.52" fill="#bbdbf2"/>
<rect x="383.62" y="303.44" width="8.38" height="7.52" fill="#bbdbf2"/>
<rect x="358.50" y="310.36" width="8.97" height="7.52" fill="#b1d6f0"/>
<rect x="366.88" y="310.36" width="8.97" height="7.52" fill="#abd3ef"/>
<rect x="375.25" y="310.36" width="8.97" height="7.52" fill="#abd3ef"/>
<rect x="383.62" y="310.36" width="8.38" height="7.52" fill="#abd3ef"/>
<rect x="358.50" y="317.28" width="8.97" height="6.92" fill="#abd3ef"/>
<rect x="366.88" y="317.28" width="8.97" height="6.92" fill="#a6d0ee"/>
<rect x="375.25" y="317.28" width="8.97" height="6.92" fill="#a6d0ee"/>
<rect x="383.62" y="317.28" width="8.38" height="6.92" fill="#a6d0ee"/>
<rect x="358.50" y="289.60" width="33.50" height="34.60" fill="none" stroke="#3a3a3a" stroke-width="0.9"/>
<line x1="358.50" y1="303.00" x2="392.00" y2="303.00" stroke="#1c140e" stroke-width="1.3" stroke-dasharray="3.0,1.9"/>
<line x1="358.50" y1="316.80" x2="392.00" y2="316.80" stroke="#1c140e" stroke-width="1.3" stroke-dasharray="3.0,1.9"/>
<polygon points="359.60,288.50 392.00,288.50 392.00,283.00" fill="#111"/>
<polygon points="356.20,290.60 356.20,323.90 352.70,323.90" fill="#111"/>
<line x1="395.20" y1="301.50" x2="400.20" y2="301.50" stroke="#222" stroke-width="0.9"/>
<polygon points="402.00,301.50 399.40,299.90 399.40,303.10" fill="#222"/>
<text x="0" y="0" transform="translate(284.30,323.50) rotate(-90)" font-size="7.6" fill="#6e4c84" stroke="#6e4c84" stroke-width="0.08" textLength="25.60" lengthAdjust="spacingAndGlyphs">CM-1231</text>
<text x="265.30" y="362.20" font-size="9.6" fill="#2b2b2b" stroke="#2b2b2b" stroke-width="0.08" textLength="41.70" lengthAdjust="spacing">MOLM-13</text>
<text x="321.30" y="356.60" font-size="8.0" fill="#2b2b2b" stroke="#2b2b2b" stroke-width="0.08" textLength="39.40" lengthAdjust="spacing">Venetoclax</text>
<rect x="295.00" y="369.30" width="8.20" height="6.80" fill="#fdeee4"/>
<rect x="302.60" y="369.30" width="8.80" height="6.80" fill="#f18f59"/>
<rect x="310.80" y="369.30" width="8.80" height="6.80" fill="#f18c55"/>
<rect x="319.00" y="369.30" width="8.80" height="6.80" fill="#f0844a"/>
<rect x="327.20" y="369.30" width="8.20" height="6.80" fill="#ef7e42"/>
<rect x="295.00" y="375.50" width="8.20" height="7.44" fill="#f8c5a9"/>
<rect x="302.60" y="375.50" width="8.80" height="7.44" fill="#f18f59"/>
<rect x="310.80" y="375.50" width="8.80" height="7.44" fill="#f18c55"/>
<rect x="319.00" y="375.50" width="8.80" height="7.44" fill="#f0844a"/>
<rect x="327.20" y="375.50" width="8.20" height="7.44" fill="#ef7e42"/>
<rect x="295.00" y="382.34" width="8.20" height="7.44" fill="#f8c2a5"/>
<rect x="302.60" y="382.34" width="8.80" height="7.44" fill="#f18c55"/>
<rect x="310.80" y="382.34" width="8.80" height="7.44" fill="#f08951"/>
<rect x="319.00" y="382.34" width="8.80" height="7.44" fill="#ef8146"/>
<rect x="327.20" y="382.34" width="8.20" height="7.44" fill="#ef7c3e"/>
<rect x="295.00" y="389.18" width="8.20" height="7.44" fill="#f7c0a1"/>
<rect x="302.60" y="389.18" width="8.80" height="7.44" fill="#f18c55"/>
<rect x="310.80" y="389.18" width="8.80" height="7.44" fill="#f08951"/>
<rect x="319.00" y="389.18" width="8.80" height="7.44" fill="#ef8146"/>
<rect x="327.20" y="389.18" width="8.20" height="7.44" fill="#ef7c3e"/>
<rect x="295.00" y="396.02" width="8.20" height="7.44" fill="#f4aa81"/>
<rect x="302.60" y="396.02" width="8.80" height="7.44" fill="#f0874e"/>
<rect x="310.80" y="396.02" width="8.80" height="7.44" fill="#f0844a"/>
<rect x="319.00" y="396.02" width="8.80" height="7.44" fill="#ef7e42"/>
<rect x="327.20" y="396.02" width="8.20" height="7.44" fill="#ee793a"/>
<rect x="295.00" y="402.86" width="8.20" height="6.84" fill="#f39f71"/>
<rect x="302.60" y="402.86" width="8.80" height="6.84" fill="#ed712e"/>
<rect x="310.80" y="402.86" width="8.80" height="6.84" fill="#ed6e2a"/>
<rect x="319.00" y="402.86" width="8.80" height="6.84" fill="#ed6d28"/>
<rect x="327.20" y="402.86" width="8.20" height="6.84" fill="#ed6d28"/>
<rect x="295.00" y="369.30" width="40.40" height="40.40" fill="none" stroke="#3a3a3a" stroke-width="0.9"/>
<line x1="302.60" y1="375.50" x2="335.40" y2="375.50" stroke="#1c140e" stroke-width="1.3" stroke-dasharray="3.0,1.9"/>
<line x1="302.60" y1="375.50" x2="302.60" y2="409.70" stroke="#1c140e" stroke-width="1.3" stroke-dasharray="3.0,1.9"/>
<polygon points="303.70,368.50 334.60,368.50 334.60,363.00" fill="#111"/>
<polygon points="293.80,375.50 293.80,409.40 289.20,409.40" fill="#111"/>
<line x1="337.70" y1="388.00" x2="342.70" y2="388.00" stroke="#222" stroke-width="0.9"/>
<polygon points="344.50,388.00 341.90,386.40 341.90,389.60" fill="#222"/>
<rect x="358.00" y="375.00" width="9.20" height="7.54" fill="#ffffff"/>
<rect x="366.60" y="375.00" width="9.20" height="7.54" fill="#ffffff"/>
<rect x="375.20" y="375.00" width="9.20" height="7.54" fill="#ffffff"/>
<rect x="383.80" y="375.00" width="8.60" height="7.54" fill="#ffffff"/>
<rect x="358.00" y="381.94" width="9.20" height="7.54" fill="#ffffff"/>
<rect x="366.60" y="381.94" width="9.20" height="7.54" fill="#ffffff"/>
<rect x="375.20" y="381.94" width="9.20" height="7.54" fill="#ffffff"/>
<rect x="383.80" y="381.94" width="8.60" height="7.54" fill="#ffffff"/>
<rect x="358.00" y="388.88" width="9.20" height="7.54" fill="#ffffff"/>
<rect x="366.60" y="388.88" width="9.20" height="7.54" fill="#bbdbf2"/>
<rect x="375.20" y="388.88" width="9.20" height="7.54" fill="#b6d8f1"/>
<rect x="383.80" y="388.88" width="8.60" height="7.54" fill="#b6d8f1"/>
<rect x="358.00" y="395.82" width="9.20" height="7.54" fill="#ddedf8"/>
<rect x="366.60" y="395.82" width="9.20" height="7.54" fill="#9ac9eb"/>
<rect x="375.20" y="395.82" width="9.20" height="7.54" fill="#95c6ea"/>
<rect x="383.80" y="395.82" width="8.60" height="7.54" fill="#95c6ea"/>
<rect x="358.00" y="402.76" width="9.20" height="6.94" fill="#62a6dc"/>
<rect x="366.60" y="402.76" width="9.20" height="6.94" fill="#5da3da"/>
<rect x="375.20" y="402.76" width="9.20" height="6.94" fill="#5da3da"/>
<rect x="383.80" y="402.76" width="8.60" height="6.94" fill="#a6d0ee"/>
<rect x="358.00" y="375.00" width="34.40" height="34.70" fill="none" stroke="#3a3a3a" stroke-width="0.9"/>
<line x1="358.00" y1="388.20" x2="392.40" y2="388.20" stroke="#1c140e" stroke-width="1.3" stroke-dasharray="3.0,1.9"/>
<line x1="358.00" y1="402.30" x2="392.40" y2="402.30" stroke="#1c140e" stroke-width="1.3" stroke-dasharray="3.0,1.9"/>
<polygon points="359.60,373.80 392.00,373.80 392.00,368.50" fill="#111"/>
<polygon points="356.20,376.00 356.20,409.40 352.70,409.40" fill="#111"/>
<line x1="395.20" y1="388.00" x2="400.20" y2="388.00" stroke="#222" stroke-width="0.9"/>
<polygon points="402.00,388.00 399.40,386.40 399.40,389.60" fill="#222"/>
<text x="0" y="0" transform="translate(284.30,409.00) rotate(-90)" font-size="7.6" fill="#6e4c84" stroke="#6e4c84" stroke-width="0.08" textLength="25.60" lengthAdjust="spacingAndGlyphs">CM-1231</text>
<text x="264.70" y="452.20" font-size="9.6" fill="#2b2b2b" stroke="#2b2b2b" stroke-width="0.08" textLength="46.00" lengthAdjust="spacing">OCI-AML3</text>
<text x="322.20" y="444.60" font-size="8.0" fill="#2b2b2b" stroke="#2b2b2b" stroke-width="0.08" textLength="39.40" lengthAdjust="spacing">Venetoclax</text>
<rect x="295.00" y="457.00" width="8.20" height="7.40" fill="#fdeee4"/>
<rect x="302.60" y="457.00" width="8.80" height="7.40" fill="#fce3d4"/>
<rect x="310.80" y="457.00" width="8.80" height="7.40" fill="#fce3d4"/>
<rect x="319.00" y="457.00" width="8.80" height="7.40" fill="#fbe0d0"/>
<rect x="327.20" y="457.00" width="8.20" height="7.40" fill="#fbe0d0"/>
<rect x="295.00" y="463.80" width="8.20" height="7.44" fill="#fad6c0"/>
<rect x="302.60" y="463.80" width="8.80" height="7.44" fill="#f8c8ad"/>
<rect x="310.80" y="463.80" width="8.80" height="7.44" fill="#f8c5a9"/>
<rect x="319.00" y="463.80" width="8.80" height="7.44" fill="#f8c5a9"/>
<rect x="327.20" y="463.80" width="8.20" height="7.44" fill="#f8c5a9"/>
<rect x="295.00" y="470.64" width="8.20" height="7.44" fill="#fad3bc"/>
<rect x="302.60" y="470.64" width="8.80" height="7.44" fill="#f39f71"/>
<rect x="310.80" y="470.64" width="8.80" height="7.44" fill="#f39c6d"/>
<rect x="319.00" y="470.64" width="8.80" height="7.44" fill="#f39c6d"/>
<rect x="327.20" y="470.64" width="8.20" height="7.44" fill="#f39c6d"/>
<rect x="295.00" y="477.48" width="8.20" height="7.44" fill="#f9d0b8"/>
<rect x="302.60" y="477.48" width="8.80" height="7.44" fill="#f18c55"/>
<rect x="310.80" y="477.48" width="8.80" height="7.44" fill="#f08951"/>
<rect x="319.00" y="477.48" width="8.80" height="7.44" fill="#f08951"/>
<rect x="327.20" y="477.48" width="8.20" height="7.44" fill="#f08951"/>
<rect x="295.00" y="484.32" width="8.20" height="7.44" fill="#f6b591"/>
<rect x="302.60" y="484.32" width="8.80" height="7.44" fill="#ee7432"/>
<rect x="310.80" y="484.32" width="8.80" height="7.44" fill="#ee7230"/>
<rect x="319.00" y="484.32" width="8.80" height="7.44" fill="#ed712e"/>
<rect x="327.20" y="484.32" width="8.20" height="7.44" fill="#ed712e"/>
<rect x="295.00" y="491.16" width="8.20" height="6.84" fill="#f0844a"/>
<rect x="302.60" y="491.16" width="8.80" height="6.84" fill="#ed712e"/>
<rect x="310.80" y="491.16" width="8.80" height="6.84" fill="#ed702c"/>
<rect x="319.00" y="491.16" width="8.80" height="6.84" fill="#ed6e2a"/>
<rect x="327.20" y="491.16" width="8.20" height="6.84" fill="#ed6e2a"/>
<rect x="295.00" y="457.00" width="40.40" height="41.00" fill="none" stroke="#3a3a3a" stroke-width="0.9"/>
<line x1="302.60" y1="463.80" x2="335.40" y2="463.80" stroke="#1c140e" stroke-width="1.3" stroke-dasharray="3.0,1.9"/>
<line x1="302.60" y1="463.80" x2="302.60" y2="498.00" stroke="#1c140e" stroke-width="1.3" stroke-dasharray="3.0,1.9"/>
<polygon points="303.70,456.20 334.60,456.20 334.60,451.50" fill="#111"/>
<polygon points="293.80,463.50 293.80,497.70 289.20,497.70" fill="#111"/>
<line x1="337.70" y1="474.00" x2="342.70" y2="474.00" stroke="#222" stroke-width="0.9"/>
<polygon points="344.50,474.00 341.90,472.40 341.90,475.60" fill="#222"/>
<rect x="358.00" y="463.40" width="9.10" height="7.52" fill="#abd3ef"/>
<rect x="366.50" y="463.40" width="9.10" height="7.52" fill="#abd3ef"/>
<rect x="375.00" y="463.40" width="9.10" height="7.52" fill="#e5f1fa"/>
<rect x="383.50" y="463.40" width="8.50" height="7.52" fill="#e5f1fa"/>
<rect x="358.00" y="470.32" width="9.10" height="7.52" fill="#a6d0ee"/>
<rect x="366.50" y="470.32" width="9.10" height="7.52" fill="#a6d0ee"/>
<rect x="375.00" y="470.32" width="9.10" height="7.52" fill="#abd3ef"/>
<rect x="383.50" y="470.32" width="8.50" height="7.52" fill="#b1d6f0"/>
<rect x="358.00" y="477.24" width="9.10" height="7.52" fill="#a6d0ee"/>
<rect x="366.50" y="477.24" width="9.10" height="7.52" fill="#a6d0ee"/>
<rect x="375.00" y="477.24" width="9.10" height="7.52" fill="#abd3ef"/>
<rect x="383.50" y="477.24" width="8.50" height="7.52" fill="#b1d6f0"/>
<rect x="358.00" y="484.16" width="9.10" height="7.52" fill="#89bfe7"/>
<rect x="366.50" y="484.16" width="9.10" height="7.52" fill="#89bfe7"/>
<rect x="375.00" y="484.16" width="9.10" height="7.52" fill="#8fc2e8"/>
<rect x="383.50" y="484.16" width="8.50" height="7.52" fill="#95c6ea"/>
<rect x="358.00" y="491.08" width="9.10" height="6.92" fill="#83bce6"/>
<rect x="366.50" y="491.08" width="9.10" height="6.92" fill="#83bce6"/>
<rect x="375.00" y="491.08" width="9.10" height="6.92" fill="#89bfe7"/>
<rect x="383.50" y="491.08" width="8.50" height="6.92" fill="#8fc2e8"/>
<rect x="358.00" y="463.40" width="34.00" height="34.60" fill="none" stroke="#3a3a3a" stroke-width="0.9"/>
<line x1="358.00" y1="470.30" x2="392.00" y2="470.30" stroke="#1c140e" stroke-width="1.3" stroke-dasharray="3.0,1.9"/>
<line x1="358.00" y1="484.20" x2="392.00" y2="484.20" stroke="#1c140e" stroke-width="1.3" stroke-dasharray="3.0,1.9"/>
<polygon points="359.60,462.00 392.00,462.00 392.00,456.50" fill="#111"/>
<polygon points="356.20,464.00 356.20,497.70 352.70,497.70" fill="#111"/>
<line x1="395.20" y1="474.00" x2="400.20" y2="474.00" stroke="#222" stroke-width="0.9"/>
<polygon points="402.00,474.00 399.40,472.40 399.40,475.60" fill="#222"/>
<text x="0" y="0" transform="translate(284.30,497.30) rotate(-90)" font-size="7.6" fill="#6e4c84" stroke="#6e4c84" stroke-width="0.08" textLength="25.60" lengthAdjust="spacingAndGlyphs">CM-1231</text>
<line x1="177.10" y1="211.43" x2="219.60" y2="211.43" stroke="#666" stroke-width="1.1" stroke-dasharray="2.4,1.8"/>
<path d="M177.10,191.67 C178.94,191.80 184.94,192.01 188.17,192.48 C191.39,192.95 194.16,193.49 196.47,194.49 C198.77,195.50 200.39,197.11 202.00,198.53 C203.61,199.94 204.77,201.35 206.15,202.96 C207.53,204.58 208.92,206.46 210.30,208.21 C211.68,209.95 213.76,212.58 214.45,213.45" fill="none" stroke="#111111" stroke-width="1.3"/>
<circle cx="177.10" cy="191.67" r="1.45" fill="#111111"/>
<circle cx="202.00" cy="198.93" r="1.45" fill="#111111"/>
<circle cx="206.15" cy="204.17" r="1.45" fill="#111111"/>
<line x1="210.30" y1="209.82" x2="210.30" y2="207.40" stroke="#111111" stroke-width="0.6"/>
<line x1="209.40" y1="209.82" x2="211.20" y2="209.82" stroke="#111111" stroke-width="0.6"/>
<line x1="209.40" y1="207.40" x2="211.20" y2="207.40" stroke="#111111" stroke-width="0.6"/>
<circle cx="210.30" cy="208.61" r="1.45" fill="#111111"/>
<line x1="214.45" y1="216.27" x2="214.45" y2="210.63" stroke="#111111" stroke-width="0.6"/>
<line x1="213.55" y1="216.27" x2="215.35" y2="216.27" stroke="#111111" stroke-width="0.6"/>
<line x1="213.55" y1="210.63" x2="215.35" y2="210.63" stroke="#111111" stroke-width="0.6"/>
<circle cx="214.45" cy="213.45" r="1.45" fill="#111111"/>
<path d="M177.10,200.14 C179.17,201.75 185.40,206.59 189.55,209.82 C193.70,213.05 198.54,216.68 202.00,219.50 C205.46,222.32 208.23,225.08 210.30,226.76 C212.38,228.44 213.76,229.11 214.45,229.58" fill="none" stroke="#f2a2a2" stroke-width="1.0"/>
<circle cx="177.10" cy="200.14" r="1.45" fill="#f2a2a2"/>
<line x1="202.00" y1="226.76" x2="202.00" y2="212.24" stroke="#f2a2a2" stroke-width="0.6"/>
<line x1="201.10" y1="226.76" x2="202.90" y2="226.76" stroke="#f2a2a2" stroke-width="0.6"/>
<line x1="201.10" y1="212.24" x2="202.90" y2="212.24" stroke="#f2a2a2" stroke-width="0.6"/>
<circle cx="202.00" cy="219.50" r="1.45" fill="#f2a2a2"/>
<line x1="206.15" y1="229.99" x2="206.15" y2="223.53" stroke="#f2a2a2" stroke-width="0.6"/>
<line x1="205.25" y1="229.99" x2="207.05" y2="229.99" stroke="#f2a2a2" stroke-width="0.6"/>
<line x1="205.25" y1="223.53" x2="207.05" y2="223.53" stroke="#f2a2a2" stroke-width="0.6"/>
<circle cx="206.15" cy="226.76" r="1.45" fill="#f2a2a2"/>
<line x1="210.30" y1="230.39" x2="210.30" y2="227.97" stroke="#f2a2a2" stroke-width="0.6"/>
<line x1="209.40" y1="230.39" x2="211.20" y2="230.39" stroke="#f2a2a2" stroke-width="0.6"/>
<line x1="209.40" y1="227.97" x2="211.20" y2="227.97" stroke="#f2a2a2" stroke-width="0.6"/>
<circle cx="210.30" cy="229.18" r="1.45" fill="#f2a2a2"/>
<line x1="214.45" y1="230.79" x2="214.45" y2="229.18" stroke="#f2a2a2" stroke-width="0.6"/>
<line x1="213.55" y1="230.79" x2="215.35" y2="230.79" stroke="#f2a2a2" stroke-width="0.6"/>
<line x1="213.55" y1="229.18" x2="215.35" y2="229.18" stroke="#f2a2a2" stroke-width="0.6"/>
<circle cx="214.45" cy="229.99" r="1.45" fill="#f2a2a2"/>
<path d="M177.10,204.17 C178.25,206.19 181.71,212.91 184.02,216.27 C186.32,219.63 188.63,222.26 190.93,224.34 C193.24,226.42 195.54,227.84 197.85,228.78 C200.16,229.72 202.00,229.72 204.77,229.99 C207.53,230.26 212.84,230.32 214.45,230.39" fill="none" stroke="#be1238" stroke-width="1.3"/>
<circle cx="177.10" cy="204.17" r="1.45" fill="#be1238"/>
<circle cx="202.00" cy="229.58" r="1.45" fill="#be1238"/>
<circle cx="206.15" cy="229.99" r="1.45" fill="#be1238"/>
<circle cx="210.30" cy="229.99" r="1.45" fill="#be1238"/>
<circle cx="214.45" cy="230.39" r="1.45" fill="#be1238"/>
<line x1="176.50" y1="181.99" x2="176.50" y2="232.00" stroke="#111" stroke-width="1.0"/>
<line x1="176.10" y1="231.60" x2="222.10" y2="231.60" stroke="#111" stroke-width="1.0"/>
<line x1="174.30" y1="183.20" x2="176.50" y2="183.20" stroke="#111" stroke-width="0.9"/>
<text x="171.10" y="185.60" font-size="6.8" text-anchor="end" fill="#2b2b2b" stroke="#2b2b2b" stroke-width="0.08">120</text>
<line x1="174.30" y1="199.33" x2="176.50" y2="199.33" stroke="#111" stroke-width="0.9"/>
<text x="171.10" y="201.73" font-size="6.8" text-anchor="end" fill="#2b2b2b" stroke="#2b2b2b" stroke-width="0.08">80</text>
<line x1="174.30" y1="215.47" x2="176.50" y2="215.47" stroke="#111" stroke-width="0.9"/>
<text x="171.10" y="217.87" font-size="6.8" text-anchor="end" fill="#2b2b2b" stroke="#2b2b2b" stroke-width="0.08">40</text>
<line x1="174.30" y1="231.60" x2="176.50" y2="231.60" stroke="#111" stroke-width="0.9"/>
<text x="171.10" y="234.00" font-size="6.8" text-anchor="end" fill="#2b2b2b" stroke="#2b2b2b" stroke-width="0.08">0</text>
<line x1="177.10" y1="231.60" x2="177.10" y2="233.80" stroke="#111" stroke-width="0.9"/>
<line x1="190.93" y1="231.60" x2="190.93" y2="233.80" stroke="#111" stroke-width="0.9"/>
<line x1="204.77" y1="231.60" x2="204.77" y2="233.80" stroke="#111" stroke-width="0.9"/>
<line x1="218.60" y1="231.60" x2="218.60" y2="233.80" stroke="#111" stroke-width="0.9"/>
<text x="177.10" y="243.80" font-size="6.8" text-anchor="middle" fill="#2b2b2b" stroke="#2b2b2b" stroke-width="0.08">0</text>
<text x="190.93" y="243.80" font-size="6.8" text-anchor="middle" fill="#2b2b2b" stroke="#2b2b2b" stroke-width="0.08">1</text>
<text x="204.77" y="243.80" font-size="6.8" text-anchor="middle" fill="#2b2b2b" stroke="#2b2b2b" stroke-width="0.08">2</text>
<text x="218.60" y="243.80" font-size="6.8" text-anchor="middle" fill="#2b2b2b" stroke="#2b2b2b" stroke-width="0.08">3</text>
<text x="198.85" y="254.60" font-size="8.0" text-anchor="middle" fill="#333" stroke="#333" stroke-width="0.08" textLength="56.50" lengthAdjust="spacingAndGlyphs">Venetoclax (log nM)</text>
<text x="0" y="0" transform="translate(154.00,210.60) rotate(-90)" font-size="7.0" text-anchor="middle" fill="#333" stroke="#333" stroke-width="0.08" textLength="31.00" lengthAdjust="spacingAndGlyphs">% Viability</text>
<text x="225.00" y="197.10" font-size="6.6" fill="#2b2b2b" stroke="#2b2b2b" stroke-width="0.08" textLength="22.40" lengthAdjust="spacing">FTY720</text>
<line x1="225.50" y1="203.60" x2="231.80" y2="203.60" stroke="#111111" stroke-width="1.0"/>
<polygon points="228.65,201.70 230.70,203.60 228.65,205.50 226.60,203.60" fill="#111111"/>
<text x="235.50" y="205.90" font-size="6.6" fill="#2b2b2b" stroke="#2b2b2b" stroke-width="0.08" textLength="15.40" lengthAdjust="spacing">0 µM</text>
<line x1="225.50" y1="212.30" x2="231.80" y2="212.30" stroke="#f2a2a2" stroke-width="1.0"/>
<polygon points="228.65,210.40 230.70,212.30 228.65,214.20 226.60,212.30" fill="#f2a2a2"/>
<text x="235.50" y="214.60" font-size="6.6" fill="#2b2b2b" stroke="#2b2b2b" stroke-width="0.08" textLength="15.40" lengthAdjust="spacing">4 µM</text>
<line x1="225.50" y1="220.40" x2="231.80" y2="220.40" stroke="#be1238" stroke-width="1.0"/>
<polygon points="228.65,218.50 230.70,220.40 228.65,222.30 226.60,220.40" fill="#be1238"/>
<text x="235.50" y="222.70" font-size="6.6" fill="#2b2b2b" stroke="#2b2b2b" stroke-width="0.08" textLength="15.40" lengthAdjust="spacing">5 µM</text>
<line x1="438.10" y1="211.58" x2="480.60" y2="211.58" stroke="#666" stroke-width="1.1" stroke-dasharray="2.4,1.8"/>
<path d="M438.10,191.17 C440.41,191.30 448.48,191.58 451.93,191.98 C455.39,192.39 457.01,192.94 458.85,193.62 C460.69,194.30 461.62,194.98 463.00,196.07 C464.38,197.16 465.77,198.58 467.15,200.15 C468.53,201.72 469.92,203.69 471.30,205.46 C472.68,207.23 474.76,209.88 475.45,210.77" fill="none" stroke="#111111" stroke-width="1.3"/>
<circle cx="438.10" cy="191.17" r="1.45" fill="#111111"/>
<circle cx="463.00" cy="196.47" r="1.45" fill="#111111"/>
<circle cx="467.15" cy="200.15" r="1.45" fill="#111111"/>
<circle cx="471.30" cy="205.87" r="1.45" fill="#111111"/>
<circle cx="475.45" cy="210.77" r="1.45" fill="#111111"/>
<path d="M438.10,192.39 C440.41,192.53 448.48,192.73 451.93,193.21 C455.39,193.68 457.01,194.37 458.85,195.25 C460.69,196.13 461.62,197.16 463.00,198.52 C464.38,199.88 465.77,201.38 467.15,203.42 C468.53,205.46 469.92,208.18 471.30,210.77 C472.68,213.35 474.76,217.57 475.45,218.93" fill="none" stroke="#f2a2a2" stroke-width="1.0"/>
<circle cx="438.10" cy="192.80" r="1.45" fill="#f2a2a2"/>
<line x1="463.00" y1="201.78" x2="463.00" y2="196.88" stroke="#f2a2a2" stroke-width="0.6"/>
<line x1="462.10" y1="201.78" x2="463.90" y2="201.78" stroke="#f2a2a2" stroke-width="0.6"/>
<line x1="462.10" y1="196.88" x2="463.90" y2="196.88" stroke="#f2a2a2" stroke-width="0.6"/>
<circle cx="463.00" cy="199.33" r="1.45" fill="#f2a2a2"/>
<line x1="467.15" y1="207.50" x2="467.15" y2="200.97" stroke="#f2a2a2" stroke-width="0.6"/>
<line x1="466.25" y1="207.50" x2="468.05" y2="207.50" stroke="#f2a2a2" stroke-width="0.6"/>
<line x1="466.25" y1="200.97" x2="468.05" y2="200.97" stroke="#f2a2a2" stroke-width="0.6"/>
<circle cx="467.15" cy="204.23" r="1.45" fill="#f2a2a2"/>
<line x1="471.30" y1="215.67" x2="471.30" y2="207.50" stroke="#f2a2a2" stroke-width="0.6"/>
<line x1="470.40" y1="215.67" x2="472.20" y2="215.67" stroke="#f2a2a2" stroke-width="0.6"/>
<line x1="470.40" y1="207.50" x2="472.20" y2="207.50" stroke="#f2a2a2" stroke-width="0.6"/>
<circle cx="471.30" cy="211.58" r="1.45" fill="#f2a2a2"/>
<line x1="475.45" y1="224.24" x2="475.45" y2="212.81" stroke="#f2a2a2" stroke-width="0.6"/>
<line x1="474.55" y1="224.24" x2="476.35" y2="224.24" stroke="#f2a2a2" stroke-width="0.6"/>
<line x1="474.55" y1="212.81" x2="476.35" y2="212.81" stroke="#f2a2a2" stroke-width="0.6"/>
<circle cx="475.45" cy="218.53" r="1.45" fill="#f2a2a2"/>
<path d="M438.10,201.38 C439.25,202.74 442.71,206.96 445.02,209.54 C447.32,212.13 449.63,214.65 451.93,216.89 C454.24,219.14 457.01,221.52 458.85,223.02 C460.69,224.51 461.62,225.13 463.00,225.88 C464.38,226.62 465.77,227.10 467.15,227.51 C468.53,227.92 469.92,228.12 471.30,228.32 C472.68,228.53 474.76,228.67 475.45,228.73" fill="none" stroke="#be1238" stroke-width="1.3"/>
<circle cx="438.10" cy="201.38" r="1.45" fill="#be1238"/>
<circle cx="463.00" cy="226.28" r="1.45" fill="#be1238"/>
<circle cx="467.15" cy="227.92" r="1.45" fill="#be1238"/>
<circle cx="471.30" cy="228.32" r="1.45" fill="#be1238"/>
<circle cx="475.45" cy="228.73" r="1.45" fill="#be1238"/>
<line x1="437.50" y1="181.78" x2="437.50" y2="232.40" stroke="#111" stroke-width="1.0"/>
<line x1="437.10" y1="232.00" x2="483.10" y2="232.00" stroke="#111" stroke-width="1.0"/>
<line x1="435.30" y1="183.00" x2="437.50" y2="183.00" stroke="#111" stroke-width="0.9"/>
<text x="432.10" y="185.40" font-size="6.8" text-anchor="end" fill="#2b2b2b" stroke="#2b2b2b" stroke-width="0.08">120</text>
<line x1="435.30" y1="199.33" x2="437.50" y2="199.33" stroke="#111" stroke-width="0.9"/>
<text x="432.10" y="201.73" font-size="6.8" text-anchor="end" fill="#2b2b2b" stroke="#2b2b2b" stroke-width="0.08">80</text>
<line x1="435.30" y1="215.67" x2="437.50" y2="215.67" stroke="#111" stroke-width="0.9"/>
<text x="432.10" y="218.07" font-size="6.8" text-anchor="end" fill="#2b2b2b" stroke="#2b2b2b" stroke-width="0.08">40</text>
<line x1="435.30" y1="232.00" x2="437.50" y2="232.00" stroke="#111" stroke-width="0.9"/>
<text x="432.10" y="234.40" font-size="6.8" text-anchor="end" fill="#2b2b2b" stroke="#2b2b2b" stroke-width="0.08">0</text>
<line x1="438.10" y1="232.00" x2="438.10" y2="234.20" stroke="#111" stroke-width="0.9"/>
<line x1="451.93" y1="232.00" x2="451.93" y2="234.20" stroke="#111" stroke-width="0.9"/>
<line x1="465.77" y1="232.00" x2="465.77" y2="234.20" stroke="#111" stroke-width="0.9"/>
<line x1="479.60" y1="232.00" x2="479.60" y2="234.20" stroke="#111" stroke-width="0.9"/>
<text x="438.10" y="244.00" font-size="6.8" text-anchor="middle" fill="#2b2b2b" stroke="#2b2b2b" stroke-width="0.08">0</text>
<text x="451.93" y="244.00" font-size="6.8" text-anchor="middle" fill="#2b2b2b" stroke="#2b2b2b" stroke-width="0.08">1</text>
<text x="465.77" y="244.00" font-size="6.8" text-anchor="middle" fill="#2b2b2b" stroke="#2b2b2b" stroke-width="0.08">2</text>
<text x="479.60" y="244.00" font-size="6.8" text-anchor="middle" fill="#2b2b2b" stroke="#2b2b2b" stroke-width="0.08">3</text>
<text x="459.85" y="254.80" font-size="8.0" text-anchor="middle" fill="#333" stroke="#333" stroke-width="0.08" textLength="56.50" lengthAdjust="spacingAndGlyphs">Venetoclax (log nM)</text>
<text x="0" y="0" transform="translate(415.00,210.70) rotate(-90)" font-size="7.0" text-anchor="middle" fill="#333" stroke="#333" stroke-width="0.08" textLength="31.00" lengthAdjust="spacingAndGlyphs">% Viability</text>
<text x="490.80" y="196.40" font-size="6.6" fill="#7a3d8f" stroke="#7a3d8f" stroke-width="0.08" textLength="28.40" lengthAdjust="spacing">CM-1231</text>
<line x1="491.30" y1="204.60" x2="497.60" y2="204.60" stroke="#111111" stroke-width="1.0"/>
<polygon points="494.45,202.70 496.50,204.60 494.45,206.50 492.40,204.60" fill="#111111"/>
<text x="500.40" y="206.90" font-size="6.6" fill="#2b2b2b" stroke="#2b2b2b" stroke-width="0.08" textLength="16.20" lengthAdjust="spacing">0 µM</text>
<line x1="491.30" y1="213.10" x2="497.60" y2="213.10" stroke="#f2a2a2" stroke-width="1.0"/>
<polygon points="494.45,211.20 496.50,213.10 494.45,215.00 492.40,213.10" fill="#f2a2a2"/>
<text x="500.40" y="215.40" font-size="6.6" fill="#2b2b2b" stroke="#2b2b2b" stroke-width="0.08" textLength="16.20" lengthAdjust="spacing">4 µM</text>
<line x1="491.30" y1="221.20" x2="497.60" y2="221.20" stroke="#be1238" stroke-width="1.0"/>
<polygon points="494.45,219.30 496.50,221.20 494.45,223.10 492.40,221.20" fill="#be1238"/>
<text x="500.40" y="223.50" font-size="6.6" fill="#2b2b2b" stroke="#2b2b2b" stroke-width="0.08" textLength="16.20" lengthAdjust="spacing">5 µM</text>
<line x1="177.10" y1="297.18" x2="219.60" y2="297.18" stroke="#666" stroke-width="1.1" stroke-dasharray="2.4,1.8"/>
<path d="M177.10,279.71 C178.83,280.16 184.02,281.07 187.47,282.43 C190.93,283.79 195.26,286.25 197.85,287.86 C200.44,289.48 200.96,290.45 203.04,292.13 C205.11,293.82 208.05,296.34 210.30,297.96 C212.55,299.58 215.49,301.20 216.52,301.84" fill="none" stroke="#111111" stroke-width="1.3"/>
<circle cx="177.10" cy="278.93" r="1.45" fill="#111111"/>
<line x1="197.85" y1="289.42" x2="197.85" y2="287.09" stroke="#111111" stroke-width="0.6"/>
<line x1="196.95" y1="289.42" x2="198.75" y2="289.42" stroke="#111111" stroke-width="0.6"/>
<line x1="196.95" y1="287.09" x2="198.75" y2="287.09" stroke="#111111" stroke-width="0.6"/>
<circle cx="197.85" cy="288.25" r="1.45" fill="#111111"/>
<line x1="203.04" y1="294.08" x2="203.04" y2="290.97" stroke="#111111" stroke-width="0.6"/>
<line x1="202.14" y1="294.08" x2="203.94" y2="294.08" stroke="#111111" stroke-width="0.6"/>
<line x1="202.14" y1="290.97" x2="203.94" y2="290.97" stroke="#111111" stroke-width="0.6"/>
<circle cx="203.04" cy="292.52" r="1.45" fill="#111111"/>
<line x1="210.30" y1="299.51" x2="210.30" y2="296.41" stroke="#111111" stroke-width="0.6"/>
<line x1="209.40" y1="299.51" x2="211.20" y2="299.51" stroke="#111111" stroke-width="0.6"/>
<line x1="209.40" y1="296.41" x2="211.20" y2="296.41" stroke="#111111" stroke-width="0.6"/>
<circle cx="210.30" cy="297.96" r="1.45" fill="#111111"/>
<line x1="216.52" y1="303.01" x2="216.52" y2="300.68" stroke="#111111" stroke-width="0.6"/>
<line x1="215.62" y1="303.01" x2="217.42" y2="303.01" stroke="#111111" stroke-width="0.6"/>
<line x1="215.62" y1="300.68" x2="217.42" y2="300.68" stroke="#111111" stroke-width="0.6"/>
<circle cx="216.52" cy="301.84" r="1.45" fill="#111111"/>
<path d="M177.10,283.59 C178.83,284.50 184.02,287.02 187.47,289.03 C190.93,291.03 195.26,294.01 197.85,295.63 C200.44,297.25 200.96,297.38 203.04,298.74 C205.11,300.10 208.05,302.23 210.30,303.79 C212.55,305.34 215.49,307.34 216.52,308.06" fill="none" stroke="#f2a2a2" stroke-width="1.0"/>
<circle cx="177.10" cy="283.20" r="1.45" fill="#f2a2a2"/>
<line x1="197.85" y1="298.35" x2="197.85" y2="294.47" stroke="#f2a2a2" stroke-width="0.6"/>
<line x1="196.95" y1="298.35" x2="198.75" y2="298.35" stroke="#f2a2a2" stroke-width="0.6"/>
<line x1="196.95" y1="294.47" x2="198.75" y2="294.47" stroke="#f2a2a2" stroke-width="0.6"/>
<circle cx="197.85" cy="296.41" r="1.45" fill="#f2a2a2"/>
<line x1="203.04" y1="301.07" x2="203.04" y2="295.63" stroke="#f2a2a2" stroke-width="0.6"/>
<line x1="202.14" y1="301.07" x2="203.94" y2="301.07" stroke="#f2a2a2" stroke-width="0.6"/>
<line x1="202.14" y1="295.63" x2="203.94" y2="295.63" stroke="#f2a2a2" stroke-width="0.6"/>
<circle cx="203.04" cy="298.35" r="1.45" fill="#f2a2a2"/>
<line x1="210.30" y1="306.89" x2="210.30" y2="300.68" stroke="#f2a2a2" stroke-width="0.6"/>
<line x1="209.40" y1="306.89" x2="211.20" y2="306.89" stroke="#f2a2a2" stroke-width="0.6"/>
<line x1="209.40" y1="300.68" x2="211.20" y2="300.68" stroke="#f2a2a2" stroke-width="0.6"/>
<circle cx="210.30" cy="303.79" r="1.45" fill="#f2a2a2"/>
<line x1="216.52" y1="310.39" x2="216.52" y2="305.73" stroke="#f2a2a2" stroke-width="0.6"/>
<line x1="215.62" y1="310.39" x2="217.42" y2="310.39" stroke="#f2a2a2" stroke-width="0.6"/>
<line x1="215.62" y1="305.73" x2="217.42" y2="305.73" stroke="#f2a2a2" stroke-width="0.6"/>
<circle cx="216.52" cy="308.06" r="1.45" fill="#f2a2a2"/>
<path d="M177.10,285.53 C178.83,286.70 184.02,289.93 187.47,292.52 C190.93,295.11 195.26,298.67 197.85,301.07 C200.44,303.46 200.96,305.01 203.04,306.89 C205.11,308.77 208.05,310.97 210.30,312.33 C212.55,313.69 215.49,314.59 216.52,315.05" fill="none" stroke="#be1238" stroke-width="1.3"/>
<circle cx="177.10" cy="285.53" r="1.45" fill="#be1238"/>
<circle cx="197.85" cy="301.07" r="1.45" fill="#be1238"/>
<circle cx="203.04" cy="308.06" r="1.45" fill="#be1238"/>
<circle cx="210.30" cy="312.72" r="1.45" fill="#be1238"/>
<circle cx="216.52" cy="315.05" r="1.45" fill="#be1238"/>
<line x1="176.50" y1="268.83" x2="176.50" y2="317.00" stroke="#111" stroke-width="1.0"/>
<line x1="176.10" y1="316.60" x2="222.10" y2="316.60" stroke="#111" stroke-width="1.0"/>
<line x1="174.30" y1="270.00" x2="176.50" y2="270.00" stroke="#111" stroke-width="0.9"/>
<text x="171.10" y="272.40" font-size="6.8" text-anchor="end" fill="#2b2b2b" stroke="#2b2b2b" stroke-width="0.08">120</text>
<line x1="174.30" y1="285.53" x2="176.50" y2="285.53" stroke="#111" stroke-width="0.9"/>
<text x="171.10" y="287.93" font-size="6.8" text-anchor="end" fill="#2b2b2b" stroke="#2b2b2b" stroke-width="0.08">80</text>
<line x1="174.30" y1="301.07" x2="176.50" y2="301.07" stroke="#111" stroke-width="0.9"/>
<text x="171.10" y="303.47" font-size="6.8" text-anchor="end" fill="#2b2b2b" stroke="#2b2b2b" stroke-width="0.08">40</text>
<line x1="174.30" y1="316.60" x2="176.50" y2="316.60" stroke="#111" stroke-width="0.9"/>
<text x="171.10" y="319.00" font-size="6.8" text-anchor="end" fill="#2b2b2b" stroke="#2b2b2b" stroke-width="0.08">0</text>
<line x1="177.10" y1="316.60" x2="177.10" y2="318.80" stroke="#111" stroke-width="0.9"/>
<line x1="187.47" y1="316.60" x2="187.47" y2="318.80" stroke="#111" stroke-width="0.9"/>
<line x1="197.85" y1="316.60" x2="197.85" y2="318.80" stroke="#111" stroke-width="0.9"/>
<line x1="208.22" y1="316.60" x2="208.22" y2="318.80" stroke="#111" stroke-width="0.9"/>
<line x1="218.60" y1="316.60" x2="218.60" y2="318.80" stroke="#111" stroke-width="0.9"/>
<text x="177.10" y="329.60" font-size="6.8" text-anchor="middle" fill="#2b2b2b" stroke="#2b2b2b" stroke-width="0.08">0</text>
<text x="187.47" y="329.60" font-size="6.8" text-anchor="middle" fill="#2b2b2b" stroke="#2b2b2b" stroke-width="0.08">0.5</text>
<text x="197.85" y="329.60" font-size="6.8" text-anchor="middle" fill="#2b2b2b" stroke="#2b2b2b" stroke-width="0.08">1</text>
<text x="208.22" y="329.60" font-size="6.8" text-anchor="middle" fill="#2b2b2b" stroke="#2b2b2b" stroke-width="0.08">1.5</text>
<text x="218.60" y="329.60" font-size="6.8" text-anchor="middle" fill="#2b2b2b" stroke="#2b2b2b" stroke-width="0.08">2</text>
<text x="198.85" y="340.00" font-size="8.0" text-anchor="middle" fill="#333" stroke="#333" stroke-width="0.08" textLength="56.50" lengthAdjust="spacingAndGlyphs">Venetoclax (log nM)</text>
<text x="0" y="0" transform="translate(154.00,296.50) rotate(-90)" font-size="7.0" text-anchor="middle" fill="#333" stroke="#333" stroke-width="0.08" textLength="31.00" lengthAdjust="spacingAndGlyphs">% Viability</text>
<text x="225.00" y="284.30" font-size="6.6" fill="#2b2b2b" stroke="#2b2b2b" stroke-width="0.08" textLength="22.40" lengthAdjust="spacing">FTY720</text>
<line x1="225.50" y1="290.80" x2="231.80" y2="290.80" stroke="#111111" stroke-width="1.0"/>
<polygon points="228.65,288.90 230.70,290.80 228.65,292.70 226.60,290.80" fill="#111111"/>
<text x="235.50" y="293.10" font-size="6.6" fill="#2b2b2b" stroke="#2b2b2b" stroke-width="0.08" textLength="15.40" lengthAdjust="spacing">0 µM</text>
<line x1="225.50" y1="298.20" x2="231.80" y2="298.20" stroke="#f2a2a2" stroke-width="1.0"/>
<polygon points="228.65,296.30 230.70,298.20 228.65,300.10 226.60,298.20" fill="#f2a2a2"/>
<text x="235.50" y="300.50" font-size="6.6" fill="#2b2b2b" stroke="#2b2b2b" stroke-width="0.08" textLength="15.40" lengthAdjust="spacing">4 µM</text>
<line x1="225.50" y1="306.20" x2="231.80" y2="306.20" stroke="#be1238" stroke-width="1.0"/>
<polygon points="228.65,304.30 230.70,306.20 228.65,308.10 226.60,306.20" fill="#be1238"/>
<text x="235.50" y="308.50" font-size="6.6" fill="#2b2b2b" stroke="#2b2b2b" stroke-width="0.08" textLength="15.40" lengthAdjust="spacing">5 µM</text>
<line x1="439.40" y1="296.83" x2="481.90" y2="296.83" stroke="#666" stroke-width="1.1" stroke-dasharray="2.4,1.8"/>
<path d="M439.40,278.43 C441.13,278.82 446.32,279.07 449.78,280.73 C453.23,282.39 457.38,285.91 460.15,288.40 C462.92,290.89 464.30,293.51 466.38,295.68 C468.45,297.86 470.53,299.77 472.60,301.43 C474.68,303.09 477.79,304.95 478.83,305.65" fill="none" stroke="#111111" stroke-width="1.3"/>
<circle cx="439.40" cy="278.43" r="1.45" fill="#111111"/>
<line x1="460.15" y1="290.32" x2="460.15" y2="288.02" stroke="#111111" stroke-width="0.6"/>
<line x1="459.25" y1="290.32" x2="461.05" y2="290.32" stroke="#111111" stroke-width="0.6"/>
<line x1="459.25" y1="288.02" x2="461.05" y2="288.02" stroke="#111111" stroke-width="0.6"/>
<circle cx="460.15" cy="289.17" r="1.45" fill="#111111"/>
<circle cx="466.38" cy="296.07" r="1.45" fill="#111111"/>
<circle cx="472.60" cy="301.43" r="1.45" fill="#111111"/>
<line x1="478.83" y1="306.80" x2="478.83" y2="304.50" stroke="#111111" stroke-width="0.6"/>
<line x1="477.93" y1="306.80" x2="479.73" y2="306.80" stroke="#111111" stroke-width="0.6"/>
<line x1="477.93" y1="304.50" x2="479.73" y2="304.50" stroke="#111111" stroke-width="0.6"/>
<circle cx="478.83" cy="305.65" r="1.45" fill="#111111"/>
<path d="M439.40,291.08 C441.13,292.36 446.32,296.39 449.78,298.75 C453.23,301.11 457.38,303.73 460.15,305.27 C462.92,306.80 464.30,307.12 466.38,307.95 C468.45,308.78 470.53,309.55 472.60,310.25 C474.68,310.95 477.79,311.85 478.83,312.17" fill="none" stroke="#f2a2a2" stroke-width="1.0"/>
<circle cx="439.40" cy="291.08" r="1.45" fill="#f2a2a2"/>
<line x1="460.15" y1="308.33" x2="460.15" y2="300.67" stroke="#f2a2a2" stroke-width="0.6"/>
<line x1="459.25" y1="308.33" x2="461.05" y2="308.33" stroke="#f2a2a2" stroke-width="0.6"/>
<line x1="459.25" y1="300.67" x2="461.05" y2="300.67" stroke="#f2a2a2" stroke-width="0.6"/>
<circle cx="460.15" cy="304.50" r="1.45" fill="#f2a2a2"/>
<line x1="466.38" y1="310.63" x2="466.38" y2="304.50" stroke="#f2a2a2" stroke-width="0.6"/>
<line x1="465.48" y1="310.63" x2="467.28" y2="310.63" stroke="#f2a2a2" stroke-width="0.6"/>
<line x1="465.48" y1="304.50" x2="467.28" y2="304.50" stroke="#f2a2a2" stroke-width="0.6"/>
<circle cx="466.38" cy="307.57" r="1.45" fill="#f2a2a2"/>
<line x1="472.60" y1="312.55" x2="472.60" y2="307.95" stroke="#f2a2a2" stroke-width="0.6"/>
<line x1="471.70" y1="312.55" x2="473.50" y2="312.55" stroke="#f2a2a2" stroke-width="0.6"/>
<line x1="471.70" y1="307.95" x2="473.50" y2="307.95" stroke="#f2a2a2" stroke-width="0.6"/>
<circle cx="472.60" cy="310.25" r="1.45" fill="#f2a2a2"/>
<line x1="478.83" y1="313.70" x2="478.83" y2="310.63" stroke="#f2a2a2" stroke-width="0.6"/>
<line x1="477.93" y1="313.70" x2="479.73" y2="313.70" stroke="#f2a2a2" stroke-width="0.6"/>
<line x1="477.93" y1="310.63" x2="479.73" y2="310.63" stroke="#f2a2a2" stroke-width="0.6"/>
<circle cx="478.83" cy="312.17" r="1.45" fill="#f2a2a2"/>
<path d="M439.40,297.60 C441.13,298.56 446.32,301.62 449.78,303.35 C453.23,305.08 457.38,306.80 460.15,307.95 C462.92,309.10 464.30,309.55 466.38,310.25 C468.45,310.95 470.53,311.59 472.60,312.17 C474.68,312.74 477.79,313.44 478.83,313.70" fill="none" stroke="#be1238" stroke-width="1.3"/>
<circle cx="439.40" cy="297.60" r="1.45" fill="#be1238"/>
<line x1="460.15" y1="310.63" x2="460.15" y2="306.03" stroke="#be1238" stroke-width="0.6"/>
<line x1="459.25" y1="310.63" x2="461.05" y2="310.63" stroke="#be1238" stroke-width="0.6"/>
<line x1="459.25" y1="306.03" x2="461.05" y2="306.03" stroke="#be1238" stroke-width="0.6"/>
<circle cx="460.15" cy="308.33" r="1.45" fill="#be1238"/>
<line x1="466.38" y1="312.17" x2="466.38" y2="308.33" stroke="#be1238" stroke-width="0.6"/>
<line x1="465.48" y1="312.17" x2="467.28" y2="312.17" stroke="#be1238" stroke-width="0.6"/>
<line x1="465.48" y1="308.33" x2="467.28" y2="308.33" stroke="#be1238" stroke-width="0.6"/>
<circle cx="466.38" cy="310.25" r="1.45" fill="#be1238"/>
<line x1="472.60" y1="313.70" x2="472.60" y2="310.63" stroke="#be1238" stroke-width="0.6"/>
<line x1="471.70" y1="313.70" x2="473.50" y2="313.70" stroke="#be1238" stroke-width="0.6"/>
<line x1="471.70" y1="310.63" x2="473.50" y2="310.63" stroke="#be1238" stroke-width="0.6"/>
<circle cx="472.60" cy="312.17" r="1.45" fill="#be1238"/>
<line x1="478.83" y1="314.85" x2="478.83" y2="312.55" stroke="#be1238" stroke-width="0.6"/>
<line x1="477.93" y1="314.85" x2="479.73" y2="314.85" stroke="#be1238" stroke-width="0.6"/>
<line x1="477.93" y1="312.55" x2="479.73" y2="312.55" stroke="#be1238" stroke-width="0.6"/>
<circle cx="478.83" cy="313.70" r="1.45" fill="#be1238"/>
<line x1="438.80" y1="268.85" x2="438.80" y2="316.40" stroke="#111" stroke-width="1.0"/>
<line x1="438.40" y1="316.00" x2="484.40" y2="316.00" stroke="#111" stroke-width="1.0"/>
<line x1="436.60" y1="270.00" x2="438.80" y2="270.00" stroke="#111" stroke-width="0.9"/>
<text x="433.40" y="272.40" font-size="6.8" text-anchor="end" fill="#2b2b2b" stroke="#2b2b2b" stroke-width="0.08">120</text>
<line x1="436.60" y1="285.33" x2="438.80" y2="285.33" stroke="#111" stroke-width="0.9"/>
<text x="433.40" y="287.73" font-size="6.8" text-anchor="end" fill="#2b2b2b" stroke="#2b2b2b" stroke-width="0.08">80</text>
<line x1="436.60" y1="300.67" x2="438.80" y2="300.67" stroke="#111" stroke-width="0.9"/>
<text x="433.40" y="303.07" font-size="6.8" text-anchor="end" fill="#2b2b2b" stroke="#2b2b2b" stroke-width="0.08">40</text>
<line x1="436.60" y1="316.00" x2="438.80" y2="316.00" stroke="#111" stroke-width="0.9"/>
<text x="433.40" y="318.40" font-size="6.8" text-anchor="end" fill="#2b2b2b" stroke="#2b2b2b" stroke-width="0.08">0</text>
<line x1="439.40" y1="316.00" x2="439.40" y2="318.20" stroke="#111" stroke-width="0.9"/>
<line x1="449.78" y1="316.00" x2="449.78" y2="318.20" stroke="#111" stroke-width="0.9"/>
<line x1="460.15" y1="316.00" x2="460.15" y2="318.20" stroke="#111" stroke-width="0.9"/>
<line x1="470.53" y1="316.00" x2="470.53" y2="318.20" stroke="#111" stroke-width="0.9"/>
<line x1="480.90" y1="316.00" x2="480.90" y2="318.20" stroke="#111" stroke-width="0.9"/>
<text x="439.40" y="329.60" font-size="6.8" text-anchor="middle" fill="#2b2b2b" stroke="#2b2b2b" stroke-width="0.08">0</text>
<text x="449.78" y="329.60" font-size="6.8" text-anchor="middle" fill="#2b2b2b" stroke="#2b2b2b" stroke-width="0.08">0.5</text>
<text x="460.15" y="329.60" font-size="6.8" text-anchor="middle" fill="#2b2b2b" stroke="#2b2b2b" stroke-width="0.08">1</text>
<text x="470.53" y="329.60" font-size="6.8" text-anchor="middle" fill="#2b2b2b" stroke="#2b2b2b" stroke-width="0.08">1.5</text>
<text x="480.90" y="329.60" font-size="6.8" text-anchor="middle" fill="#2b2b2b" stroke="#2b2b2b" stroke-width="0.08">2</text>
<text x="461.15" y="340.00" font-size="8.0" text-anchor="middle" fill="#333" stroke="#333" stroke-width="0.08" textLength="56.50" lengthAdjust="spacingAndGlyphs">Venetoclax (log nM)</text>
<text x="0" y="0" transform="translate(416.30,296.20) rotate(-90)" font-size="7.0" text-anchor="middle" fill="#333" stroke="#333" stroke-width="0.08" textLength="31.00" lengthAdjust="spacingAndGlyphs">% Viability</text>
<text x="492.10" y="280.60" font-size="6.6" fill="#7a3d8f" stroke="#7a3d8f" stroke-width="0.08" textLength="28.40" lengthAdjust="spacing">CM-1231</text>
<line x1="492.60" y1="288.80" x2="498.90" y2="288.80" stroke="#111111" stroke-width="1.0"/>
<polygon points="495.75,286.90 497.80,288.80 495.75,290.70 493.70,288.80" fill="#111111"/>
<text x="501.70" y="291.10" font-size="6.6" fill="#2b2b2b" stroke="#2b2b2b" stroke-width="0.08" textLength="16.20" lengthAdjust="spacing">0 µM</text>
<line x1="492.60" y1="297.60" x2="498.90" y2="297.60" stroke="#f2a2a2" stroke-width="1.0"/>
<polygon points="495.75,295.70 497.80,297.60 495.75,299.50 493.70,297.60" fill="#f2a2a2"/>
<text x="501.70" y="299.90" font-size="6.6" fill="#2b2b2b" stroke="#2b2b2b" stroke-width="0.08" textLength="16.20" lengthAdjust="spacing">6 µM</text>
<line x1="492.60" y1="306.10" x2="498.90" y2="306.10" stroke="#be1238" stroke-width="1.0"/>
<polygon points="495.75,304.20 497.80,306.10 495.75,308.00 493.70,306.10" fill="#be1238"/>
<text x="501.70" y="308.40" font-size="6.6" fill="#2b2b2b" stroke="#2b2b2b" stroke-width="0.08" textLength="16.20" lengthAdjust="spacing">7 µM</text>
<line x1="177.10" y1="381.78" x2="219.60" y2="381.78" stroke="#666" stroke-width="1.1" stroke-dasharray="2.4,1.8"/>
<path d="M177.10,364.70 C178.48,365.09 182.63,365.60 185.40,367.03 C188.17,368.45 191.76,371.43 193.70,373.24 C195.64,375.05 195.64,376.48 197.02,377.90 C198.40,379.32 200.34,380.42 202.00,381.78 C203.66,383.14 205.32,384.76 206.98,386.06 C208.64,387.35 211.13,388.97 211.96,389.55" fill="none" stroke="#111111" stroke-width="1.3"/>
<circle cx="177.10" cy="363.14" r="1.45" fill="#111111"/>
<circle cx="197.02" cy="379.45" r="1.45" fill="#111111"/>
<circle cx="202.00" cy="381.39" r="1.45" fill="#111111"/>
<circle cx="206.98" cy="386.44" r="1.45" fill="#111111"/>
<circle cx="211.96" cy="389.55" r="1.45" fill="#111111"/>
<path d="M177.10,370.91 C178.76,372.08 183.74,375.57 187.06,377.90 C190.38,380.23 194.53,383.08 197.02,384.89 C199.51,386.70 200.34,387.35 202.00,388.77 C203.66,390.20 205.32,392.14 206.98,393.43 C208.64,394.73 211.13,396.02 211.96,396.54" fill="none" stroke="#f2a2a2" stroke-width="1.0"/>
<circle cx="177.10" cy="370.91" r="1.45" fill="#f2a2a2"/>
<line x1="197.02" y1="388.77" x2="197.02" y2="381.01" stroke="#f2a2a2" stroke-width="0.6"/>
<line x1="196.12" y1="388.77" x2="197.92" y2="388.77" stroke="#f2a2a2" stroke-width="0.6"/>
<line x1="196.12" y1="381.01" x2="197.92" y2="381.01" stroke="#f2a2a2" stroke-width="0.6"/>
<circle cx="197.02" cy="384.89" r="1.45" fill="#f2a2a2"/>
<line x1="202.00" y1="392.66" x2="202.00" y2="384.89" stroke="#f2a2a2" stroke-width="0.6"/>
<line x1="201.10" y1="392.66" x2="202.90" y2="392.66" stroke="#f2a2a2" stroke-width="0.6"/>
<line x1="201.10" y1="384.89" x2="202.90" y2="384.89" stroke="#f2a2a2" stroke-width="0.6"/>
<circle cx="202.00" cy="388.77" r="1.45" fill="#f2a2a2"/>
<line x1="206.98" y1="395.76" x2="206.98" y2="389.55" stroke="#f2a2a2" stroke-width="0.6"/>
<line x1="206.08" y1="395.76" x2="207.88" y2="395.76" stroke="#f2a2a2" stroke-width="0.6"/>
<line x1="206.08" y1="389.55" x2="207.88" y2="389.55" stroke="#f2a2a2" stroke-width="0.6"/>
<circle cx="206.98" cy="392.66" r="1.45" fill="#f2a2a2"/>
<line x1="211.96" y1="398.09" x2="211.96" y2="393.43" stroke="#f2a2a2" stroke-width="0.6"/>
<line x1="211.06" y1="398.09" x2="212.86" y2="398.09" stroke="#f2a2a2" stroke-width="0.6"/>
<line x1="211.06" y1="393.43" x2="212.86" y2="393.43" stroke="#f2a2a2" stroke-width="0.6"/>
<circle cx="211.96" cy="395.76" r="1.45" fill="#f2a2a2"/>
<path d="M177.10,376.35 C178.76,377.64 183.74,381.78 187.06,384.11 C190.38,386.44 194.53,388.77 197.02,390.33 C199.51,391.88 200.34,392.46 202.00,393.43 C203.66,394.40 205.32,395.38 206.98,396.15 C208.64,396.93 211.13,397.77 211.96,398.09" fill="none" stroke="#be1238" stroke-width="1.3"/>
<circle cx="177.10" cy="375.96" r="1.45" fill="#be1238"/>
<line x1="197.02" y1="394.99" x2="197.02" y2="387.22" stroke="#be1238" stroke-width="0.6"/>
<line x1="196.12" y1="394.99" x2="197.92" y2="394.99" stroke="#be1238" stroke-width="0.6"/>
<line x1="196.12" y1="387.22" x2="197.92" y2="387.22" stroke="#be1238" stroke-width="0.6"/>
<circle cx="197.02" cy="391.10" r="1.45" fill="#be1238"/>
<line x1="202.00" y1="398.09" x2="202.00" y2="388.77" stroke="#be1238" stroke-width="0.6"/>
<line x1="201.10" y1="398.09" x2="202.90" y2="398.09" stroke="#be1238" stroke-width="0.6"/>
<line x1="201.10" y1="388.77" x2="202.90" y2="388.77" stroke="#be1238" stroke-width="0.6"/>
<circle cx="202.00" cy="393.43" r="1.45" fill="#be1238"/>
<line x1="206.98" y1="398.87" x2="206.98" y2="394.21" stroke="#be1238" stroke-width="0.6"/>
<line x1="206.08" y1="398.87" x2="207.88" y2="398.87" stroke="#be1238" stroke-width="0.6"/>
<line x1="206.08" y1="394.21" x2="207.88" y2="394.21" stroke="#be1238" stroke-width="0.6"/>
<circle cx="206.98" cy="396.54" r="1.45" fill="#be1238"/>
<line x1="211.96" y1="400.03" x2="211.96" y2="396.15" stroke="#be1238" stroke-width="0.6"/>
<line x1="211.06" y1="400.03" x2="212.86" y2="400.03" stroke="#be1238" stroke-width="0.6"/>
<line x1="211.06" y1="396.15" x2="212.86" y2="396.15" stroke="#be1238" stroke-width="0.6"/>
<circle cx="211.96" cy="398.09" r="1.45" fill="#be1238"/>
<line x1="176.50" y1="353.44" x2="176.50" y2="401.60" stroke="#111" stroke-width="1.0"/>
<line x1="176.10" y1="401.20" x2="222.10" y2="401.20" stroke="#111" stroke-width="1.0"/>
<line x1="174.30" y1="354.60" x2="176.50" y2="354.60" stroke="#111" stroke-width="0.9"/>
<text x="171.10" y="357.00" font-size="6.8" text-anchor="end" fill="#2b2b2b" stroke="#2b2b2b" stroke-width="0.08">120</text>
<line x1="174.30" y1="370.13" x2="176.50" y2="370.13" stroke="#111" stroke-width="0.9"/>
<text x="171.10" y="372.53" font-size="6.8" text-anchor="end" fill="#2b2b2b" stroke="#2b2b2b" stroke-width="0.08">80</text>
<line x1="174.30" y1="385.67" x2="176.50" y2="385.67" stroke="#111" stroke-width="0.9"/>
<text x="171.10" y="388.07" font-size="6.8" text-anchor="end" fill="#2b2b2b" stroke="#2b2b2b" stroke-width="0.08">40</text>
<line x1="174.30" y1="401.20" x2="176.50" y2="401.20" stroke="#111" stroke-width="0.9"/>
<text x="171.10" y="403.60" font-size="6.8" text-anchor="end" fill="#2b2b2b" stroke="#2b2b2b" stroke-width="0.08">0</text>
<line x1="177.10" y1="401.20" x2="177.10" y2="403.40" stroke="#111" stroke-width="0.9"/>
<line x1="185.40" y1="401.20" x2="185.40" y2="403.40" stroke="#111" stroke-width="0.9"/>
<line x1="193.70" y1="401.20" x2="193.70" y2="403.40" stroke="#111" stroke-width="0.9"/>
<line x1="202.00" y1="401.20" x2="202.00" y2="403.40" stroke="#111" stroke-width="0.9"/>
<line x1="210.30" y1="401.20" x2="210.30" y2="403.40" stroke="#111" stroke-width="0.9"/>
<line x1="218.60" y1="401.20" x2="218.60" y2="403.40" stroke="#111" stroke-width="0.9"/>
<text x="177.10" y="412.80" font-size="6.8" text-anchor="middle" fill="#2b2b2b" stroke="#2b2b2b" stroke-width="0.08">0</text>
<text x="185.40" y="412.80" font-size="6.8" text-anchor="middle" fill="#2b2b2b" stroke="#2b2b2b" stroke-width="0.08">0.5</text>
<text x="202.00" y="412.80" font-size="6.8" text-anchor="middle" fill="#2b2b2b" stroke="#2b2b2b" stroke-width="0.08">1.5</text>
<text x="218.60" y="412.80" font-size="6.8" text-anchor="middle" fill="#2b2b2b" stroke="#2b2b2b" stroke-width="0.08">2.5</text>
<text x="198.85" y="424.60" font-size="8.0" text-anchor="middle" fill="#333" stroke="#333" stroke-width="0.08" textLength="56.50" lengthAdjust="spacingAndGlyphs">Venetoclax (log nM)</text>
<text x="0" y="0" transform="translate(154.00,381.10) rotate(-90)" font-size="7.0" text-anchor="middle" fill="#333" stroke="#333" stroke-width="0.08" textLength="31.00" lengthAdjust="spacingAndGlyphs">% Viability</text>
<text x="225.00" y="371.30" font-size="6.6" fill="#2b2b2b" stroke="#2b2b2b" stroke-width="0.08" textLength="22.40" lengthAdjust="spacing">FTY720</text>
<line x1="225.50" y1="377.80" x2="231.80" y2="377.80" stroke="#111111" stroke-width="1.0"/>
<polygon points="228.65,375.90 230.70,377.80 228.65,379.70 226.60,377.80" fill="#111111"/>
<text x="235.50" y="380.10" font-size="6.6" fill="#2b2b2b" stroke="#2b2b2b" stroke-width="0.08" textLength="15.40" lengthAdjust="spacing">0 µM</text>
<line x1="225.50" y1="385.40" x2="231.80" y2="385.40" stroke="#f2a2a2" stroke-width="1.0"/>
<polygon points="228.65,383.50 230.70,385.40 228.65,387.30 226.60,385.40" fill="#f2a2a2"/>
<text x="235.50" y="387.70" font-size="6.6" fill="#2b2b2b" stroke="#2b2b2b" stroke-width="0.08" textLength="15.40" lengthAdjust="spacing">5 µM</text>
<line x1="225.50" y1="393.50" x2="231.80" y2="393.50" stroke="#be1238" stroke-width="1.0"/>
<polygon points="228.65,391.60 230.70,393.50 228.65,395.40 226.60,393.50" fill="#be1238"/>
<text x="235.50" y="395.80" font-size="6.6" fill="#2b2b2b" stroke="#2b2b2b" stroke-width="0.08" textLength="15.40" lengthAdjust="spacing">8 µM</text>
<line x1="439.40" y1="382.25" x2="481.90" y2="382.25" stroke="#666" stroke-width="1.1" stroke-dasharray="2.4,1.8"/>
<path d="M439.40,364.93 C440.78,365.31 444.93,365.89 447.70,367.24 C450.47,368.58 454.06,371.28 456.00,373.01 C457.94,374.74 457.94,376.15 459.32,377.63 C460.70,379.11 462.64,380.20 464.30,381.87 C465.96,383.53 467.62,386.10 469.28,387.64 C470.94,389.18 473.43,390.53 474.26,391.11" fill="none" stroke="#111111" stroke-width="1.3"/>
<circle cx="439.40" cy="363.00" r="1.45" fill="#111111"/>
<circle cx="459.32" cy="377.63" r="1.45" fill="#111111"/>
<circle cx="464.30" cy="381.87" r="1.45" fill="#111111"/>
<circle cx="469.28" cy="388.02" r="1.45" fill="#111111"/>
<circle cx="474.26" cy="391.11" r="1.45" fill="#111111"/>
<path d="M439.40,371.47 C441.06,372.62 446.04,376.09 449.36,378.40 C452.68,380.71 456.83,383.53 459.32,385.33 C461.81,387.13 462.64,387.90 464.30,389.18 C465.96,390.46 467.62,391.88 469.28,393.03 C470.94,394.19 473.43,395.60 474.26,396.11" fill="none" stroke="#f2a2a2" stroke-width="1.0"/>
<circle cx="439.40" cy="371.47" r="1.45" fill="#f2a2a2"/>
<line x1="459.32" y1="389.18" x2="459.32" y2="383.02" stroke="#f2a2a2" stroke-width="0.6"/>
<line x1="458.42" y1="389.18" x2="460.22" y2="389.18" stroke="#f2a2a2" stroke-width="0.6"/>
<line x1="458.42" y1="383.02" x2="460.22" y2="383.02" stroke="#f2a2a2" stroke-width="0.6"/>
<circle cx="459.32" cy="386.10" r="1.45" fill="#f2a2a2"/>
<line x1="464.30" y1="393.80" x2="464.30" y2="386.10" stroke="#f2a2a2" stroke-width="0.6"/>
<line x1="463.40" y1="393.80" x2="465.20" y2="393.80" stroke="#f2a2a2" stroke-width="0.6"/>
<line x1="463.40" y1="386.10" x2="465.20" y2="386.10" stroke="#f2a2a2" stroke-width="0.6"/>
<circle cx="464.30" cy="389.95" r="1.45" fill="#f2a2a2"/>
<line x1="469.28" y1="396.88" x2="469.28" y2="390.72" stroke="#f2a2a2" stroke-width="0.6"/>
<line x1="468.38" y1="396.88" x2="470.18" y2="396.88" stroke="#f2a2a2" stroke-width="0.6"/>
<line x1="468.38" y1="390.72" x2="470.18" y2="390.72" stroke="#f2a2a2" stroke-width="0.6"/>
<circle cx="469.28" cy="393.80" r="1.45" fill="#f2a2a2"/>
<line x1="474.26" y1="399.19" x2="474.26" y2="394.57" stroke="#f2a2a2" stroke-width="0.6"/>
<line x1="473.36" y1="399.19" x2="475.16" y2="399.19" stroke="#f2a2a2" stroke-width="0.6"/>
<line x1="473.36" y1="394.57" x2="475.16" y2="394.57" stroke="#f2a2a2" stroke-width="0.6"/>
<circle cx="474.26" cy="396.88" r="1.45" fill="#f2a2a2"/>
<path d="M439.40,376.09 C441.06,377.37 446.04,381.48 449.36,383.79 C452.68,386.10 456.83,388.41 459.32,389.95 C461.81,391.49 462.64,392.00 464.30,393.03 C465.96,394.06 467.62,395.28 469.28,396.11 C470.94,396.94 473.43,397.71 474.26,398.04" fill="none" stroke="#be1238" stroke-width="1.3"/>
<circle cx="439.40" cy="376.09" r="1.45" fill="#be1238"/>
<line x1="459.32" y1="392.26" x2="459.32" y2="387.64" stroke="#be1238" stroke-width="0.6"/>
<line x1="458.42" y1="392.26" x2="460.22" y2="392.26" stroke="#be1238" stroke-width="0.6"/>
<line x1="458.42" y1="387.64" x2="460.22" y2="387.64" stroke="#be1238" stroke-width="0.6"/>
<circle cx="459.32" cy="389.95" r="1.45" fill="#be1238"/>
<line x1="464.30" y1="396.88" x2="464.30" y2="390.72" stroke="#be1238" stroke-width="0.6"/>
<line x1="463.40" y1="396.88" x2="465.20" y2="396.88" stroke="#be1238" stroke-width="0.6"/>
<line x1="463.40" y1="390.72" x2="465.20" y2="390.72" stroke="#be1238" stroke-width="0.6"/>
<circle cx="464.30" cy="393.80" r="1.45" fill="#be1238"/>
<line x1="469.28" y1="398.42" x2="469.28" y2="393.80" stroke="#be1238" stroke-width="0.6"/>
<line x1="468.38" y1="398.42" x2="470.18" y2="398.42" stroke="#be1238" stroke-width="0.6"/>
<line x1="468.38" y1="393.80" x2="470.18" y2="393.80" stroke="#be1238" stroke-width="0.6"/>
<circle cx="469.28" cy="396.11" r="1.45" fill="#be1238"/>
<line x1="474.26" y1="399.96" x2="474.26" y2="396.11" stroke="#be1238" stroke-width="0.6"/>
<line x1="473.36" y1="399.96" x2="475.16" y2="399.96" stroke="#be1238" stroke-width="0.6"/>
<line x1="473.36" y1="396.11" x2="475.16" y2="396.11" stroke="#be1238" stroke-width="0.6"/>
<circle cx="474.26" cy="398.04" r="1.45" fill="#be1238"/>
<line x1="438.80" y1="354.14" x2="438.80" y2="401.90" stroke="#111" stroke-width="1.0"/>
<line x1="438.40" y1="401.50" x2="484.40" y2="401.50" stroke="#111" stroke-width="1.0"/>
<line x1="436.60" y1="355.30" x2="438.80" y2="355.30" stroke="#111" stroke-width="0.9"/>
<text x="433.40" y="357.70" font-size="6.8" text-anchor="end" fill="#2b2b2b" stroke="#2b2b2b" stroke-width="0.08">120</text>
<line x1="436.60" y1="370.70" x2="438.80" y2="370.70" stroke="#111" stroke-width="0.9"/>
<text x="433.40" y="373.10" font-size="6.8" text-anchor="end" fill="#2b2b2b" stroke="#2b2b2b" stroke-width="0.08">80</text>
<line x1="436.60" y1="386.10" x2="438.80" y2="386.10" stroke="#111" stroke-width="0.9"/>
<text x="433.40" y="388.50" font-size="6.8" text-anchor="end" fill="#2b2b2b" stroke="#2b2b2b" stroke-width="0.08">40</text>
<line x1="436.60" y1="401.50" x2="438.80" y2="401.50" stroke="#111" stroke-width="0.9"/>
<text x="433.40" y="403.90" font-size="6.8" text-anchor="end" fill="#2b2b2b" stroke="#2b2b2b" stroke-width="0.08">0</text>
<line x1="439.40" y1="401.50" x2="439.40" y2="403.70" stroke="#111" stroke-width="0.9"/>
<line x1="447.70" y1="401.50" x2="447.70" y2="403.70" stroke="#111" stroke-width="0.9"/>
<line x1="456.00" y1="401.50" x2="456.00" y2="403.70" stroke="#111" stroke-width="0.9"/>
<line x1="464.30" y1="401.50" x2="464.30" y2="403.70" stroke="#111" stroke-width="0.9"/>
<line x1="472.60" y1="401.50" x2="472.60" y2="403.70" stroke="#111" stroke-width="0.9"/>
<line x1="480.90" y1="401.50" x2="480.90" y2="403.70" stroke="#111" stroke-width="0.9"/>
<text x="439.40" y="413.20" font-size="6.8" text-anchor="middle" fill="#2b2b2b" stroke="#2b2b2b" stroke-width="0.08">0</text>
<text x="447.70" y="413.20" font-size="6.8" text-anchor="middle" fill="#2b2b2b" stroke="#2b2b2b" stroke-width="0.08">0.5</text>
<text x="464.30" y="413.20" font-size="6.8" text-anchor="middle" fill="#2b2b2b" stroke="#2b2b2b" stroke-width="0.08">1.5</text>
<text x="480.90" y="413.20" font-size="6.8" text-anchor="middle" fill="#2b2b2b" stroke="#2b2b2b" stroke-width="0.08">2.5</text>
<text x="461.15" y="424.80" font-size="8.0" text-anchor="middle" fill="#333" stroke="#333" stroke-width="0.08" textLength="56.50" lengthAdjust="spacingAndGlyphs">Venetoclax (log nM)</text>
<text x="0" y="0" transform="translate(416.30,381.60) rotate(-90)" font-size="7.0" text-anchor="middle" fill="#333" stroke="#333" stroke-width="0.08" textLength="31.00" lengthAdjust="spacingAndGlyphs">% Viability</text>
<text x="492.10" y="369.40" font-size="6.6" fill="#7a3d8f" stroke="#7a3d8f" stroke-width="0.08" textLength="28.40" lengthAdjust="spacing">CM-1231</text>
<line x1="492.60" y1="377.60" x2="498.90" y2="377.60" stroke="#111111" stroke-width="1.0"/>
<polygon points="495.75,375.70 497.80,377.60 495.75,379.50 493.70,377.60" fill="#111111"/>
<text x="501.70" y="379.90" font-size="6.6" fill="#2b2b2b" stroke="#2b2b2b" stroke-width="0.08" textLength="16.20" lengthAdjust="spacing">0 µM</text>
<line x1="492.60" y1="385.90" x2="498.90" y2="385.90" stroke="#f2a2a2" stroke-width="1.0"/>
<polygon points="495.75,384.00 497.80,385.90 495.75,387.80 493.70,385.90" fill="#f2a2a2"/>
<text x="501.70" y="388.20" font-size="6.6" fill="#2b2b2b" stroke="#2b2b2b" stroke-width="0.08" textLength="16.20" lengthAdjust="spacing">7 µM</text>
<line x1="492.60" y1="394.80" x2="498.90" y2="394.80" stroke="#be1238" stroke-width="1.0"/>
<polygon points="495.75,392.90 497.80,394.80 495.75,396.70 493.70,394.80" fill="#be1238"/>
<text x="501.70" y="397.10" font-size="6.6" fill="#2b2b2b" stroke="#2b2b2b" stroke-width="0.08" textLength="16.20" lengthAdjust="spacing">8 µM</text>
<line x1="177.10" y1="468.74" x2="219.60" y2="468.74" stroke="#666" stroke-width="1.1" stroke-dasharray="2.4,1.8"/>
<path d="M177.10,449.28 C178.83,449.28 184.02,449.28 187.47,449.28 C190.93,449.28 194.39,449.28 197.85,449.28 C201.31,449.28 205.46,449.28 208.22,449.28 C210.99,449.28 213.41,449.28 214.45,449.28" fill="none" stroke="#111111" stroke-width="1.3"/>
<circle cx="177.10" cy="449.28" r="1.45" fill="#111111"/>
<line x1="208.22" y1="450.84" x2="208.22" y2="446.95" stroke="#111111" stroke-width="0.6"/>
<line x1="207.32" y1="450.84" x2="209.12" y2="450.84" stroke="#111111" stroke-width="0.6"/>
<line x1="207.32" y1="446.95" x2="209.12" y2="446.95" stroke="#111111" stroke-width="0.6"/>
<circle cx="208.22" cy="448.89" r="1.45" fill="#111111"/>
<line x1="210.30" y1="451.62" x2="210.30" y2="446.95" stroke="#111111" stroke-width="0.6"/>
<line x1="209.40" y1="451.62" x2="211.20" y2="451.62" stroke="#111111" stroke-width="0.6"/>
<line x1="209.40" y1="446.95" x2="211.20" y2="446.95" stroke="#111111" stroke-width="0.6"/>
<circle cx="210.30" cy="449.28" r="1.45" fill="#111111"/>
<line x1="212.38" y1="450.84" x2="212.38" y2="446.95" stroke="#111111" stroke-width="0.6"/>
<line x1="211.47" y1="450.84" x2="213.28" y2="450.84" stroke="#111111" stroke-width="0.6"/>
<line x1="211.47" y1="446.95" x2="213.28" y2="446.95" stroke="#111111" stroke-width="0.6"/>
<circle cx="212.38" cy="448.89" r="1.45" fill="#111111"/>
<line x1="214.45" y1="452.01" x2="214.45" y2="448.12" stroke="#111111" stroke-width="0.6"/>
<line x1="213.55" y1="452.01" x2="215.35" y2="452.01" stroke="#111111" stroke-width="0.6"/>
<line x1="213.55" y1="448.12" x2="215.35" y2="448.12" stroke="#111111" stroke-width="0.6"/>
<circle cx="214.45" cy="450.06" r="1.45" fill="#111111"/>
<path d="M177.10,455.90 C178.83,456.29 184.02,457.33 187.47,458.23 C190.93,459.14 194.39,460.24 197.85,461.35 C201.31,462.45 205.63,463.94 208.22,464.85 C210.82,465.76 212.55,466.47 213.41,466.80" fill="none" stroke="#f2a2a2" stroke-width="1.0"/>
<circle cx="177.10" cy="455.90" r="1.45" fill="#f2a2a2"/>
<circle cx="208.22" cy="464.46" r="1.45" fill="#f2a2a2"/>
<line x1="210.30" y1="467.57" x2="210.30" y2="463.68" stroke="#f2a2a2" stroke-width="0.6"/>
<line x1="209.40" y1="467.57" x2="211.20" y2="467.57" stroke="#f2a2a2" stroke-width="0.6"/>
<line x1="209.40" y1="463.68" x2="211.20" y2="463.68" stroke="#f2a2a2" stroke-width="0.6"/>
<circle cx="210.30" cy="465.63" r="1.45" fill="#f2a2a2"/>
<line x1="212.38" y1="470.30" x2="212.38" y2="465.63" stroke="#f2a2a2" stroke-width="0.6"/>
<line x1="211.47" y1="470.30" x2="213.28" y2="470.30" stroke="#f2a2a2" stroke-width="0.6"/>
<line x1="211.47" y1="465.63" x2="213.28" y2="465.63" stroke="#f2a2a2" stroke-width="0.6"/>
<circle cx="212.38" cy="467.96" r="1.45" fill="#f2a2a2"/>
<line x1="214.45" y1="471.47" x2="214.45" y2="467.57" stroke="#f2a2a2" stroke-width="0.6"/>
<line x1="213.55" y1="471.47" x2="215.35" y2="471.47" stroke="#f2a2a2" stroke-width="0.6"/>
<line x1="213.55" y1="467.57" x2="215.35" y2="467.57" stroke="#f2a2a2" stroke-width="0.6"/>
<circle cx="214.45" cy="469.52" r="1.45" fill="#f2a2a2"/>
<path d="M177.10,462.13 C178.48,463.36 182.63,467.25 185.40,469.52 C188.17,471.79 190.93,473.80 193.70,475.75 C196.47,477.69 199.58,479.77 202.00,481.19 C204.42,482.62 206.67,483.72 208.22,484.31 C209.78,484.89 210.30,485.02 211.34,484.70 C212.37,484.37 213.93,482.75 214.45,482.36" fill="none" stroke="#be1238" stroke-width="1.3"/>
<circle cx="177.10" cy="462.13" r="1.45" fill="#be1238"/>
<circle cx="208.22" cy="484.31" r="1.45" fill="#be1238"/>
<circle cx="210.30" cy="484.31" r="1.45" fill="#be1238"/>
<circle cx="212.38" cy="484.70" r="1.45" fill="#be1238"/>
<circle cx="214.45" cy="481.97" r="1.45" fill="#be1238"/>
<line x1="176.50" y1="440.33" x2="176.50" y2="488.60" stroke="#111" stroke-width="1.0"/>
<line x1="176.10" y1="488.20" x2="222.10" y2="488.20" stroke="#111" stroke-width="1.0"/>
<line x1="174.30" y1="441.50" x2="176.50" y2="441.50" stroke="#111" stroke-width="0.9"/>
<text x="171.10" y="443.90" font-size="6.8" text-anchor="end" fill="#2b2b2b" stroke="#2b2b2b" stroke-width="0.08">120</text>
<line x1="174.30" y1="457.07" x2="176.50" y2="457.07" stroke="#111" stroke-width="0.9"/>
<text x="171.10" y="459.47" font-size="6.8" text-anchor="end" fill="#2b2b2b" stroke="#2b2b2b" stroke-width="0.08">80</text>
<line x1="174.30" y1="472.63" x2="176.50" y2="472.63" stroke="#111" stroke-width="0.9"/>
<text x="171.10" y="475.03" font-size="6.8" text-anchor="end" fill="#2b2b2b" stroke="#2b2b2b" stroke-width="0.08">40</text>
<line x1="174.30" y1="488.20" x2="176.50" y2="488.20" stroke="#111" stroke-width="0.9"/>
<text x="171.10" y="490.60" font-size="6.8" text-anchor="end" fill="#2b2b2b" stroke="#2b2b2b" stroke-width="0.08">0</text>
<line x1="177.10" y1="488.20" x2="177.10" y2="490.40" stroke="#111" stroke-width="0.9"/>
<line x1="187.47" y1="488.20" x2="187.47" y2="490.40" stroke="#111" stroke-width="0.9"/>
<line x1="197.85" y1="488.20" x2="197.85" y2="490.40" stroke="#111" stroke-width="0.9"/>
<line x1="208.22" y1="488.20" x2="208.22" y2="490.40" stroke="#111" stroke-width="0.9"/>
<line x1="218.60" y1="488.20" x2="218.60" y2="490.40" stroke="#111" stroke-width="0.9"/>
<text x="177.10" y="500.60" font-size="6.8" text-anchor="middle" fill="#2b2b2b" stroke="#2b2b2b" stroke-width="0.08">0</text>
<text x="187.47" y="500.60" font-size="6.8" text-anchor="middle" fill="#2b2b2b" stroke="#2b2b2b" stroke-width="0.08">1</text>
<text x="197.85" y="500.60" font-size="6.8" text-anchor="middle" fill="#2b2b2b" stroke="#2b2b2b" stroke-width="0.08">2</text>
<text x="208.22" y="500.60" font-size="6.8" text-anchor="middle" fill="#2b2b2b" stroke="#2b2b2b" stroke-width="0.08">3</text>
<text x="218.60" y="500.60" font-size="6.8" text-anchor="middle" fill="#2b2b2b" stroke="#2b2b2b" stroke-width="0.08">4</text>
<text x="198.85" y="510.80" font-size="8.0" text-anchor="middle" fill="#333" stroke="#333" stroke-width="0.08" textLength="56.50" lengthAdjust="spacingAndGlyphs">Venetoclax (log nM)</text>
<text x="0" y="0" transform="translate(154.00,468.05) rotate(-90)" font-size="7.0" text-anchor="middle" fill="#333" stroke="#333" stroke-width="0.08" textLength="31.00" lengthAdjust="spacingAndGlyphs">% Viability</text>
<text x="225.00" y="457.70" font-size="6.6" fill="#2b2b2b" stroke="#2b2b2b" stroke-width="0.08" textLength="22.40" lengthAdjust="spacing">FTY720</text>
<line x1="225.50" y1="464.20" x2="231.80" y2="464.20" stroke="#111111" stroke-width="1.0"/>
<polygon points="228.65,462.30 230.70,464.20 228.65,466.10 226.60,464.20" fill="#111111"/>
<text x="235.50" y="466.50" font-size="6.6" fill="#2b2b2b" stroke="#2b2b2b" stroke-width="0.08" textLength="15.40" lengthAdjust="spacing">0 µM</text>
<line x1="225.50" y1="471.40" x2="231.80" y2="471.40" stroke="#f2a2a2" stroke-width="1.0"/>
<polygon points="228.65,469.50 230.70,471.40 228.65,473.30 226.60,471.40" fill="#f2a2a2"/>
<text x="235.50" y="473.70" font-size="6.6" fill="#2b2b2b" stroke="#2b2b2b" stroke-width="0.08">3.75 µM</text>
<line x1="225.50" y1="480.20" x2="231.80" y2="480.20" stroke="#be1238" stroke-width="1.0"/>
<polygon points="228.65,478.30 230.70,480.20 228.65,482.10 226.60,480.20" fill="#be1238"/>
<text x="235.50" y="482.50" font-size="6.6" fill="#2b2b2b" stroke="#2b2b2b" stroke-width="0.08" textLength="15.40" lengthAdjust="spacing">4 µM</text>
<line x1="439.40" y1="468.74" x2="481.90" y2="468.74" stroke="#666" stroke-width="1.1" stroke-dasharray="2.4,1.8"/>
<path d="M439.40,449.28 C441.13,449.28 446.32,449.28 449.78,449.28 C453.23,449.28 456.69,449.28 460.15,449.28 C463.61,449.28 467.76,449.28 470.53,449.28 C473.29,449.28 475.71,449.28 476.75,449.28" fill="none" stroke="#111111" stroke-width="1.3"/>
<circle cx="439.40" cy="449.28" r="1.45" fill="#111111"/>
<circle cx="470.53" cy="449.67" r="1.45" fill="#111111"/>
<line x1="472.60" y1="451.23" x2="472.60" y2="447.34" stroke="#111111" stroke-width="0.6"/>
<line x1="471.70" y1="451.23" x2="473.50" y2="451.23" stroke="#111111" stroke-width="0.6"/>
<line x1="471.70" y1="447.34" x2="473.50" y2="447.34" stroke="#111111" stroke-width="0.6"/>
<circle cx="472.60" cy="449.28" r="1.45" fill="#111111"/>
<line x1="474.68" y1="451.23" x2="474.68" y2="446.56" stroke="#111111" stroke-width="0.6"/>
<line x1="473.78" y1="451.23" x2="475.57" y2="451.23" stroke="#111111" stroke-width="0.6"/>
<line x1="473.78" y1="446.56" x2="475.57" y2="446.56" stroke="#111111" stroke-width="0.6"/>
<circle cx="474.68" cy="448.89" r="1.45" fill="#111111"/>
<line x1="476.75" y1="452.01" x2="476.75" y2="448.12" stroke="#111111" stroke-width="0.6"/>
<line x1="475.85" y1="452.01" x2="477.65" y2="452.01" stroke="#111111" stroke-width="0.6"/>
<line x1="475.85" y1="448.12" x2="477.65" y2="448.12" stroke="#111111" stroke-width="0.6"/>
<circle cx="476.75" cy="450.06" r="1.45" fill="#111111"/>
<path d="M439.40,449.28 C441.13,449.35 446.66,449.41 449.78,449.67 C452.89,449.93 455.65,450.00 458.08,450.84 C460.50,451.68 462.23,452.79 464.30,454.73 C466.38,456.68 468.62,459.53 470.53,462.51 C472.43,465.50 474.85,470.95 475.71,472.63" fill="none" stroke="#f2a2a2" stroke-width="1.0"/>
<circle cx="439.40" cy="449.28" r="1.45" fill="#f2a2a2"/>
<line x1="470.53" y1="467.96" x2="470.53" y2="460.18" stroke="#f2a2a2" stroke-width="0.6"/>
<line x1="469.63" y1="467.96" x2="471.43" y2="467.96" stroke="#f2a2a2" stroke-width="0.6"/>
<line x1="469.63" y1="460.18" x2="471.43" y2="460.18" stroke="#f2a2a2" stroke-width="0.6"/>
<circle cx="470.53" cy="464.07" r="1.45" fill="#f2a2a2"/>
<line x1="473.64" y1="472.63" x2="473.64" y2="464.85" stroke="#f2a2a2" stroke-width="0.6"/>
<line x1="472.74" y1="472.63" x2="474.54" y2="472.63" stroke="#f2a2a2" stroke-width="0.6"/>
<line x1="472.74" y1="464.85" x2="474.54" y2="464.85" stroke="#f2a2a2" stroke-width="0.6"/>
<circle cx="473.64" cy="468.74" r="1.45" fill="#f2a2a2"/>
<line x1="476.75" y1="478.08" x2="476.75" y2="468.74" stroke="#f2a2a2" stroke-width="0.6"/>
<line x1="475.85" y1="478.08" x2="477.65" y2="478.08" stroke="#f2a2a2" stroke-width="0.6"/>
<line x1="475.85" y1="468.74" x2="477.65" y2="468.74" stroke="#f2a2a2" stroke-width="0.6"/>
<circle cx="476.75" cy="473.41" r="1.45" fill="#f2a2a2"/>
<path d="M439.40,457.07 C441.13,458.17 446.32,461.48 449.78,463.68 C453.23,465.89 457.04,468.16 460.15,470.30 C463.26,472.44 466.38,474.97 468.45,476.52 C470.53,478.08 471.22,478.73 472.60,479.64 C473.98,480.55 476.06,481.58 476.75,481.97" fill="none" stroke="#be1238" stroke-width="1.3"/>
<circle cx="439.40" cy="457.07" r="1.45" fill="#be1238"/>
<line x1="468.45" y1="485.09" x2="468.45" y2="469.52" stroke="#be1238" stroke-width="0.6"/>
<line x1="467.55" y1="485.09" x2="469.35" y2="485.09" stroke="#be1238" stroke-width="0.6"/>
<line x1="467.55" y1="469.52" x2="469.35" y2="469.52" stroke="#be1238" stroke-width="0.6"/>
<circle cx="468.45" cy="477.30" r="1.45" fill="#be1238"/>
<line x1="472.60" y1="487.42" x2="472.60" y2="473.41" stroke="#be1238" stroke-width="0.6"/>
<line x1="471.70" y1="487.42" x2="473.50" y2="487.42" stroke="#be1238" stroke-width="0.6"/>
<line x1="471.70" y1="473.41" x2="473.50" y2="473.41" stroke="#be1238" stroke-width="0.6"/>
<circle cx="472.60" cy="480.42" r="1.45" fill="#be1238"/>
<line x1="474.68" y1="487.03" x2="474.68" y2="475.36" stroke="#be1238" stroke-width="0.6"/>
<line x1="473.78" y1="487.03" x2="475.57" y2="487.03" stroke="#be1238" stroke-width="0.6"/>
<line x1="473.78" y1="475.36" x2="475.57" y2="475.36" stroke="#be1238" stroke-width="0.6"/>
<circle cx="474.68" cy="481.19" r="1.45" fill="#be1238"/>
<line x1="476.75" y1="487.03" x2="476.75" y2="477.69" stroke="#be1238" stroke-width="0.6"/>
<line x1="475.85" y1="487.03" x2="477.65" y2="487.03" stroke="#be1238" stroke-width="0.6"/>
<line x1="475.85" y1="477.69" x2="477.65" y2="477.69" stroke="#be1238" stroke-width="0.6"/>
<circle cx="476.75" cy="482.36" r="1.45" fill="#be1238"/>
<line x1="438.80" y1="440.33" x2="438.80" y2="488.60" stroke="#111" stroke-width="1.0"/>
<line x1="438.40" y1="488.20" x2="484.40" y2="488.20" stroke="#111" stroke-width="1.0"/>
<line x1="436.60" y1="441.50" x2="438.80" y2="441.50" stroke="#111" stroke-width="0.9"/>
<text x="433.40" y="443.90" font-size="6.8" text-anchor="end" fill="#2b2b2b" stroke="#2b2b2b" stroke-width="0.08">120</text>
<line x1="436.60" y1="457.07" x2="438.80" y2="457.07" stroke="#111" stroke-width="0.9"/>
<text x="433.40" y="459.47" font-size="6.8" text-anchor="end" fill="#2b2b2b" stroke="#2b2b2b" stroke-width="0.08">80</text>
<line x1="436.60" y1="472.63" x2="438.80" y2="472.63" stroke="#111" stroke-width="0.9"/>
<text x="433.40" y="475.03" font-size="6.8" text-anchor="end" fill="#2b2b2b" stroke="#2b2b2b" stroke-width="0.08">40</text>
<line x1="436.60" y1="488.20" x2="438.80" y2="488.20" stroke="#111" stroke-width="0.9"/>
<text x="433.40" y="490.60" font-size="6.8" text-anchor="end" fill="#2b2b2b" stroke="#2b2b2b" stroke-width="0.08">0</text>
<line x1="439.40" y1="488.20" x2="439.40" y2="490.40" stroke="#111" stroke-width="0.9"/>
<line x1="449.78" y1="488.20" x2="449.78" y2="490.40" stroke="#111" stroke-width="0.9"/>
<line x1="460.15" y1="488.20" x2="460.15" y2="490.40" stroke="#111" stroke-width="0.9"/>
<line x1="470.53" y1="488.20" x2="470.53" y2="490.40" stroke="#111" stroke-width="0.9"/>
<line x1="480.90" y1="488.20" x2="480.90" y2="490.40" stroke="#111" stroke-width="0.9"/>
<text x="439.40" y="500.60" font-size="6.8" text-anchor="middle" fill="#2b2b2b" stroke="#2b2b2b" stroke-width="0.08">0</text>
<text x="449.78" y="500.60" font-size="6.8" text-anchor="middle" fill="#2b2b2b" stroke="#2b2b2b" stroke-width="0.08">1</text>
<text x="460.15" y="500.60" font-size="6.8" text-anchor="middle" fill="#2b2b2b" stroke="#2b2b2b" stroke-width="0.08">2</text>
<text x="470.53" y="500.60" font-size="6.8" text-anchor="middle" fill="#2b2b2b" stroke="#2b2b2b" stroke-width="0.08">3</text>
<text x="480.90" y="500.60" font-size="6.8" text-anchor="middle" fill="#2b2b2b" stroke="#2b2b2b" stroke-width="0.08">4</text>
<text x="461.15" y="510.80" font-size="8.0" text-anchor="middle" fill="#333" stroke="#333" stroke-width="0.08" textLength="56.50" lengthAdjust="spacingAndGlyphs">Venetoclax (log nM)</text>
<text x="0" y="0" transform="translate(416.30,468.05) rotate(-90)" font-size="7.0" text-anchor="middle" fill="#333" stroke="#333" stroke-width="0.08" textLength="31.00" lengthAdjust="spacingAndGlyphs">% Viability</text>
<text x="492.10" y="456.20" font-size="6.6" fill="#7a3d8f" stroke="#7a3d8f" stroke-width="0.08" textLength="28.40" lengthAdjust="spacing">CM-1231</text>
<line x1="492.60" y1="464.40" x2="498.90" y2="464.40" stroke="#111111" stroke-width="1.0"/>
<polygon points="495.75,462.50 497.80,464.40 495.75,466.30 493.70,464.40" fill="#111111"/>
<text x="501.70" y="466.70" font-size="6.6" fill="#2b2b2b" stroke="#2b2b2b" stroke-width="0.08" textLength="16.20" lengthAdjust="spacing">0 µM</text>
<line x1="492.60" y1="472.00" x2="498.90" y2="472.00" stroke="#f2a2a2" stroke-width="1.0"/>
<polygon points="495.75,470.10 497.80,472.00 495.75,473.90 493.70,472.00" fill="#f2a2a2"/>
<text x="501.70" y="474.30" font-size="6.6" fill="#2b2b2b" stroke="#2b2b2b" stroke-width="0.08" textLength="16.20" lengthAdjust="spacing">6 µM</text>
<line x1="492.60" y1="480.60" x2="498.90" y2="480.60" stroke="#be1238" stroke-width="1.0"/>
<polygon points="495.75,478.70 497.80,480.60 495.75,482.50 493.70,480.60" fill="#be1238"/>
<text x="501.70" y="482.90" font-size="6.6" fill="#2b2b2b" stroke="#2b2b2b" stroke-width="0.08" textLength="16.20" lengthAdjust="spacing">8 µM</text>
<text x="0.80" y="541.20" font-size="12" font-weight="bold" fill="#111">D</text>
<text x="91.50" y="553.40" font-size="6.7" text-anchor="middle" fill="#2b2b2b" stroke="#2b2b2b" stroke-width="0.08" textLength="28.50" lengthAdjust="spacing">AML Cell</text>
<text x="91.80" y="562.40" font-size="6.7" text-anchor="middle" fill="#2b2b2b" stroke="#2b2b2b" stroke-width="0.08" textLength="31.50" lengthAdjust="spacing">treatment</text>
<line x1="89.00" y1="571.00" x2="138.00" y2="571.00" stroke="#333" stroke-width="0.8"/>
<line x1="89.00" y1="569.30" x2="89.00" y2="572.70" stroke="#333" stroke-width="0.8"/>
<line x1="138.00" y1="569.30" x2="138.00" y2="572.70" stroke="#333" stroke-width="0.8"/>
<g><polygon points="111.6,553.6 119,549.8 124.5,549.4 133,554.6 135.2,558.6 131.5,561.6 127,563.2 119.5,561 113,557.2" fill="#d6a676"/><polygon points="113,557.2 119.5,561 127,563.2 131.5,561.6 127.5,561.2 120,559 114,555.8" fill="#c08a58"/><line x1="115" y1="553.5" x2="131" y2="558" stroke="#e6bf94" stroke-width="0.7"/></g>
<text x="172.50" y="553.40" font-size="6.7" text-anchor="middle" fill="#2b2b2b" stroke="#2b2b2b" stroke-width="0.08" textLength="16.50" lengthAdjust="spacing">2 hpi*</text>
<text x="173.20" y="562.40" font-size="6.7" text-anchor="middle" fill="#2b2b2b" stroke="#2b2b2b" stroke-width="0.08" textLength="70.00" lengthAdjust="spacing">1st fluorescence check</text>
<text x="288.20" y="553.40" font-size="6.7" text-anchor="middle" fill="#2b2b2b" stroke="#2b2b2b" stroke-width="0.08" textLength="24.50" lengthAdjust="spacing">72 hpi*</text>
<text x="288.60" y="562.00" font-size="6.7" text-anchor="middle" fill="#2b2b2b" stroke="#2b2b2b" stroke-width="0.08" textLength="73.00" lengthAdjust="spacing">2nd fluorescence check</text>
<line x1="149.50" y1="569.00" x2="149.50" y2="581.00" stroke="#111" stroke-width="0.9"/>
<polygon points="149.50,584.50 147.70,580.50 151.30,580.50" fill="#111"/>
<line x1="287.70" y1="565.70" x2="287.70" y2="572.50" stroke="#111" stroke-width="0.9"/>
<polygon points="287.70,576.00 285.90,572.00 289.50,572.00" fill="#111"/>
<line x1="38.80" y1="593.00" x2="289.50" y2="593.00" stroke="#111" stroke-width="1.0"/>
<line x1="39.20" y1="593.00" x2="39.20" y2="590.50" stroke="#111" stroke-width="0.9"/>
<text x="40.70" y="584.60" font-size="6.7" text-anchor="middle" fill="#2b2b2b" stroke="#2b2b2b" stroke-width="0.08">0 h</text>
<line x1="88.80" y1="593.00" x2="88.80" y2="590.50" stroke="#111" stroke-width="0.9"/>
<text x="90.30" y="584.60" font-size="6.7" text-anchor="middle" fill="#2b2b2b" stroke="#2b2b2b" stroke-width="0.08">24 h</text>
<line x1="138.20" y1="593.00" x2="138.20" y2="590.50" stroke="#111" stroke-width="0.9"/>
<text x="139.70" y="584.60" font-size="6.7" text-anchor="middle" fill="#2b2b2b" stroke="#2b2b2b" stroke-width="0.08">48 h</text>
<line x1="187.60" y1="593.00" x2="187.60" y2="590.50" stroke="#111" stroke-width="0.9"/>
<text x="189.10" y="584.60" font-size="6.7" text-anchor="middle" fill="#2b2b2b" stroke="#2b2b2b" stroke-width="0.08">72 h</text>
<line x1="238.40" y1="593.00" x2="238.40" y2="590.50" stroke="#111" stroke-width="0.9"/>
<text x="239.90" y="584.60" font-size="6.7" text-anchor="middle" fill="#2b2b2b" stroke="#2b2b2b" stroke-width="0.08">96 h</text>
<line x1="288.70" y1="593.00" x2="288.70" y2="590.50" stroke="#111" stroke-width="0.9"/>
<text x="290.00" y="584.60" font-size="6.7" text-anchor="middle" fill="#2b2b2b" stroke="#2b2b2b" stroke-width="0.08">120 h</text>
<text x="49.50" y="602.80" font-size="6.7" text-anchor="middle" fill="#2b2b2b" stroke="#2b2b2b" stroke-width="0.08" textLength="18.00" lengthAdjust="spacing">hours</text>
<text x="49.50" y="611.20" font-size="6.7" text-anchor="middle" fill="#2b2b2b" stroke="#2b2b2b" stroke-width="0.08" textLength="54.00" lengthAdjust="spacing">post-fecundation</text>
<text x="327.00" y="596.20" font-size="6.7" fill="#2b2b2b" stroke="#2b2b2b" stroke-width="0.08" textLength="65.00" lengthAdjust="spacing">*hours post-injection</text>
<line x1="138.20" y1="597.00" x2="138.20" y2="602.50" stroke="#111" stroke-width="0.9"/>
<polygon points="138.20,594.80 136.50,598.50 139.90,598.50" fill="#111"/>
<line x1="287.70" y1="597.00" x2="287.70" y2="602.50" stroke="#111" stroke-width="0.9"/>
<polygon points="287.70,594.80 286.00,598.50 289.40,598.50" fill="#111"/>
<rect x="88.30" y="602.60" width="101.20" height="53.60" fill="none" stroke="#7a7a7a" stroke-width="0.9"/>
<text x="94.30" y="612.40" font-size="6.7" fill="#2b2b2b" stroke="#2b2b2b" stroke-width="0.08" textLength="56.00" lengthAdjust="spacing">Injection (yolk sac)</text>
<text x="110.70" y="634.40" font-size="6.7" text-anchor="middle" fill="#2b2b2b" stroke="#2b2b2b" stroke-width="0.08" textLength="26.70" lengthAdjust="spacing">AML Cell</text>
<text x="110.60" y="643.20" font-size="6.7" text-anchor="middle" fill="#2b2b2b" stroke="#2b2b2b" stroke-width="0.08" textLength="24.20" lengthAdjust="spacing">staining</text>
<text x="110.00" y="652.00" font-size="6.7" text-anchor="middle" fill="#2b2b2b" stroke="#2b2b2b" stroke-width="0.08" textLength="39.20" lengthAdjust="spacing">and injection</text>
<circle cx="144.4" cy="633.4" r="5.0" fill="#f6dbe3"/><circle cx="144.4" cy="633.4" r="4.0" fill="#e7a9bd"/><circle cx="144.4" cy="633.4" r="2.9" fill="#9c2450"/><circle cx="144.4" cy="633.4" r="1.4" fill="#7a1038"/>
<circle cx="136.3" cy="642.1" r="5.0" fill="#f6dbe3"/><circle cx="136.3" cy="642.1" r="4.0" fill="#e7a9bd"/><circle cx="136.3" cy="642.1" r="2.9" fill="#9c2450"/><circle cx="136.3" cy="642.1" r="1.4" fill="#7a1038"/>
<circle cx="149.0" cy="644.4" r="5.0" fill="#f6dbe3"/><circle cx="149.0" cy="644.4" r="4.0" fill="#e7a9bd"/><circle cx="149.0" cy="644.4" r="2.9" fill="#9c2450"/><circle cx="149.0" cy="644.4" r="1.4" fill="#7a1038"/>
<polygon points="160.2,628.6 155.6,630.4 157.3,631.4 154.6,635.6 156.2,636.2 158.6,632.4 159.8,633.4" fill="#f4b23c"/>
<path d="M155,617 C155,611 159.5,608.3 164.5,608.3 C171,608.3 176.5,612 178.2,619 C180,627 179.6,640 175.6,651 C174.9,652.6 173,652.3 172.8,650.5 C173.6,641 173.8,632 172.2,626.5 C170.8,623.8 168,624.8 164,624.6 C159,624.3 155,621.5 155,617 Z" fill="#a3a3a3"/><ellipse cx="166.6" cy="617.8" rx="6.1" ry="6.4" fill="#dadada"/><path d="M176.6,626 C177.6,634 177,643 175.2,649.5" fill="none" stroke="#bdbdbd" stroke-width="1.0"/><circle cx="157.9" cy="618.2" r="1.7" fill="#111"/>
<rect x="235.60" y="602.60" width="104.70" height="62.00" fill="none" stroke="#7a7a7a" stroke-width="0.9"/>
<text x="283.50" y="610.80" font-size="6.7" text-anchor="middle" fill="#2b2b2b" stroke="#2b2b2b" stroke-width="0.08" textLength="73.00" lengthAdjust="spacing">Analysis of proliferation</text>
<text x="283.50" y="641.20" font-size="6.7" text-anchor="middle" fill="#2b2b2b" stroke="#2b2b2b" stroke-width="0.08" textLength="73.00" lengthAdjust="spacing">Analysis of colonization</text>
<path d="M252.8,622.8 C252.8,618.5999999999999 255.8,616.4 260.3,616.4 L318.3,617.1999999999999 C321.8,617.4 322.6,619.8 322.6,621.3 C322.6,623.3 321.3,624.8 318.3,625.0999999999999 L285.3,627.8 C279.3,629.0 275.3,630.0 269.3,630.0 C261.3,630.0 252.8,627.8 252.8,622.8 Z" fill="#e3e3e3"/>
<path d="M260.3,619.8 L315.3,619.5999999999999 C317.8,619.8 317.8,622.5999999999999 315.3,622.8 L278.3,625.0 C270.3,625.4 261.3,624.8 260.3,619.8 Z" fill="#c6c6c6"/>
<circle cx="258.3" cy="622.8" r="4.8" fill="#cdcdcd"/>
<circle cx="256.1" cy="623.4" r="1.9" fill="#1a1a1a"/>
<circle cx="269.6" cy="626.5999999999999" r="4.5" fill="#f2c4d4"/>
<circle cx="268.5" cy="625.5999999999999" r="1.05" fill="#a0103a"/>
<circle cx="270.7" cy="625.8" r="1.05" fill="#a0103a"/>
<circle cx="269.6" cy="627.8" r="1.05" fill="#a0103a"/>
<path d="M252.8,650.8 C252.8,646.5999999999999 255.8,644.4 260.3,644.4 L318.3,645.1999999999999 C321.8,645.4 322.6,647.8 322.6,649.3 C322.6,651.3 321.3,652.8 318.3,653.0999999999999 L285.3,655.8 C279.3,657.0 275.3,658.0 269.3,658.0 C261.3,658.0 252.8,655.8 252.8,650.8 Z" fill="#e3e3e3"/>
<path d="M260.3,647.8 L315.3,647.5999999999999 C317.8,647.8 317.8,650.5999999999999 315.3,650.8 L278.3,653.0 C270.3,653.4 261.3,652.8 260.3,647.8 Z" fill="#c6c6c6"/>
<circle cx="258.3" cy="650.8" r="4.8" fill="#cdcdcd"/>
<circle cx="256.1" cy="651.4" r="1.9" fill="#1a1a1a"/>
<circle cx="269.6" cy="654.5999999999999" r="4.5" fill="#f2c4d4"/>
<circle cx="268.5" cy="653.5999999999999" r="1.05" fill="#a0103a"/>
<circle cx="270.7" cy="653.8" r="1.05" fill="#a0103a"/>
<circle cx="269.6" cy="655.8" r="1.05" fill="#a0103a"/>
<circle cx="285.1" cy="650.0" r="2.8" fill="#f0bcd0"/><circle cx="285.1" cy="650.0" r="1.3" fill="#a0103a"/>
<circle cx="294.0" cy="650.0" r="2.8" fill="#f0bcd0"/><circle cx="294.0" cy="650.0" r="1.3" fill="#a0103a"/>
<circle cx="302.2" cy="650.0" r="2.8" fill="#f0bcd0"/><circle cx="302.2" cy="650.0" r="1.3" fill="#a0103a"/></svg>
</body></html>
